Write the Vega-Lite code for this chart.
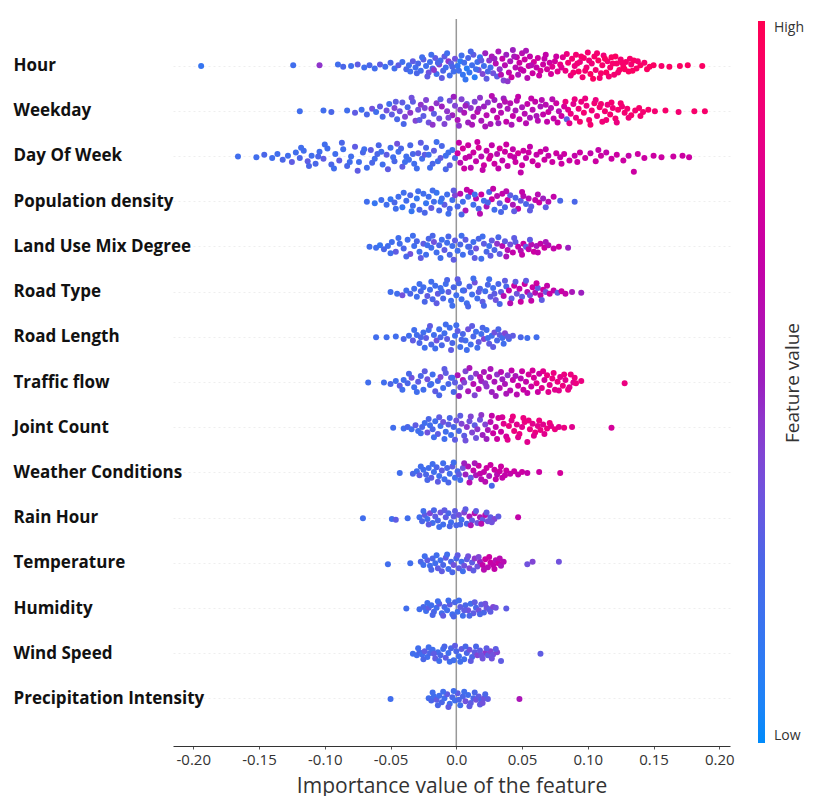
{
"$schema": "https://vega.github.io/schema/vega-lite/v6.json",
"width": 557, "height": 727,
"padding": {"left": 13, "top": 18, "right": 0, "bottom": 0},
"autosize": {"type": "pad"},
"background": "white",
"config": {"view": {"stroke": null}, "font": "Open Sans"},
"data": {"values": [
{"f":"Hour","v":-0.194,"c":0.15,"j":0},{"f":"Hour","v":-0.124,"c":0.2,"j":0.05},{"f":"Hour","v":-0.104,"c":0.45,"j":0.05},{"f":"Hour","v":-0.090,"c":0.2,"j":0.1},{"f":"Hour","v":-0.086,"c":0.25,"j":-0.05},{"f":"Hour","v":-0.080,"c":0.2,"j":0},{"f":"Hour","v":-0.075,"c":0.3,"j":0.1},{"f":"Hour","v":-0.070,"c":0.2,"j":-0.1},{"f":"Hour","v":-0.066,"c":0.25,"j":0.05},{"f":"Hour","v":-0.062,"c":0.2,"j":-0.15},{"f":"Hour","v":-0.058,"c":0.3,"j":0.1},{"f":"Hour","v":-0.054,"c":0.2,"j":-0.05},{"f":"Hour","v":-0.050,"c":0.25,"j":0.2},{"f":"Hour","v":-0.047,"c":0.2,"j":-0.15},{"f":"Hour","v":-0.044,"c":0.3,"j":0.05},{"f":"Hour","v":-0.041,"c":0.2,"j":0.25},{"f":"Hour","v":-0.038,"c":0.25,"j":-0.2},{"f":"Hour","v":-0.036,"c":0.2,"j":0.05},{"f":"Hour","v":-0.033,"c":0.3,"j":0.3},{"f":"Hour","v":-0.031,"c":0.2,"j":-0.1},{"f":"Hour","v":-0.029,"c":0.25,"j":0.15},{"f":"Hour","v":-0.027,"c":0.2,"j":-0.3},{"f":"Hour","v":-0.025,"c":0.3,"j":0.4},{"f":"Hour","v":-0.023,"c":0.2,"j":0},{"f":"Hour","v":-0.021,"c":0.35,"j":-0.4},{"f":"Hour","v":-0.020,"c":0.2,"j":0.25},{"f":"Hour","v":-0.018,"c":0.25,"j":-0.15},{"f":"Hour","v":-0.016,"c":0.3,"j":0.5},{"f":"Hour","v":-0.015,"c":0.2,"j":-0.5},{"f":"Hour","v":-0.013,"c":0.4,"j":0.1},{"f":"Hour","v":-0.012,"c":0.2,"j":0.35},{"f":"Hour","v":-0.010,"c":0.25,"j":-0.3},{"f":"Hour","v":-0.009,"c":0.3,"j":0.6},{"f":"Hour","v":-0.008,"c":0.2,"j":-0.1},{"f":"Hour","v":-0.006,"c":0.45,"j":0.3},{"f":"Hour","v":-0.005,"c":0.2,"j":-0.6},{"f":"Hour","v":-0.004,"c":0.3,"j":0.15},{"f":"Hour","v":-0.002,"c":0.2,"j":-0.35},{"f":"Hour","v":-0.001,"c":0.35,"j":0.45},
{"f":"Hour","v":0.001,"c":0.15,"j":0},{"f":"Hour","v":0.002,"c":0.2,"j":-0.3},{"f":"Hour","v":0.003,"c":0.1,"j":0.3},{"f":"Hour","v":0.005,"c":0.15,"j":-0.55},{"f":"Hour","v":0.006,"c":0.2,"j":0.2},{"f":"Hour","v":0.008,"c":0.1,"j":-0.15},{"f":"Hour","v":0.009,"c":0.25,"j":0.5},{"f":"Hour","v":0.010,"c":0.15,"j":-0.4},{"f":"Hour","v":0.012,"c":0.2,"j":0.05},{"f":"Hour","v":0.013,"c":0.3,"j":0.7},{"f":"Hour","v":0.014,"c":0.1,"j":-0.7},{"f":"Hour","v":0.016,"c":0.2,"j":0.25},{"f":"Hour","v":0.017,"c":0.35,"j":-0.25},{"f":"Hour","v":0.018,"c":0.15,"j":0.55},{"f":"Hour","v":0.020,"c":0.4,"j":-0.5},{"f":"Hour","v":0.021,"c":0.2,"j":0},{"f":"Hour","v":0.022,"c":0.5,"j":0.8},{"f":"Hour","v":0.023,"c":0.3,"j":-0.8},{"f":"Hour","v":0.025,"c":0.45,"j":0.35},{"f":"Hour","v":0.026,"c":0.2,"j":-0.1},{"f":"Hour","v":0.027,"c":0.55,"j":0.6},{"f":"Hour","v":0.028,"c":0.35,"j":-0.45},{"f":"Hour","v":0.030,"c":0.6,"j":0.15},{"f":"Hour","v":0.031,"c":0.3,"j":-0.65},{"f":"Hour","v":0.032,"c":0.55,"j":0.9},{"f":"Hour","v":0.033,"c":0.45,"j":-0.2},{"f":"Hour","v":0.035,"c":0.65,"j":0.45},{"f":"Hour","v":0.036,"c":0.4,"j":-0.9},{"f":"Hour","v":0.037,"c":0.6,"j":0.05},{"f":"Hour","v":0.038,"c":0.5,"j":0.7},{"f":"Hour","v":0.040,"c":0.65,"j":-0.4},{"f":"Hour","v":0.041,"c":0.55,"j":0.3},{"f":"Hour","v":0.042,"c":0.7,"j":-0.7},{"f":"Hour","v":0.043,"c":0.5,"j":1.0},{"f":"Hour","v":0.045,"c":0.6,"j":-0.1},{"f":"Hour","v":0.046,"c":0.65,"j":0.55},{"f":"Hour","v":0.047,"c":0.55,"j":-0.55},{"f":"Hour","v":0.048,"c":0.7,"j":0.2},{"f":"Hour","v":0.050,"c":0.6,"j":0.8},{"f":"Hour","v":0.051,"c":0.65,"j":-0.3},{"f":"Hour","v":0.052,"c":0.7,"j":0.4},{"f":"Hour","v":0.054,"c":0.6,"j":-0.75},{"f":"Hour","v":0.055,"c":0.7,"j":0},{"f":"Hour","v":0.056,"c":0.65,"j":0.6},{"f":"Hour","v":0.058,"c":0.7,"j":-0.45},{"f":"Hour","v":0.059,"c":0.75,"j":0.25},{"f":"Hour","v":0.061,"c":0.65,"j":-0.1},{"f":"Hour","v":0.062,"c":0.7,"j":0.5},{"f":"Hour","v":0.064,"c":0.75,"j":-0.3},{"f":"Hour","v":0.066,"c":0.7,"j":0.1},{"f":"Hour","v":0.067,"c":0.65,"j":0.45},{"f":"Hour","v":0.069,"c":0.75,"j":-0.2},{"f":"Hour","v":0.071,"c":0.7,"j":0.2},{"f":"Hour","v":0.073,"c":0.8,"j":-0.05},{"f":"Hour","v":0.075,"c":0.75,"j":0.3},{"f":"Hour","v":0.077,"c":0.8,"j":-0.35},{"f":"Hour","v":0.079,"c":0.85,"j":0.1},{"f":"Hour","v":0.081,"c":0.8,"j":0.55},{"f":"Hour","v":0.083,"c":0.85,"j":-0.3},{"f":"Hour","v":0.085,"c":0.9,"j":0.2},{"f":"Hour","v":0.087,"c":0.85,"j":-0.6},{"f":"Hour","v":0.088,"c":0.9,"j":0.45},{"f":"Hour","v":0.090,"c":0.85,"j":0},{"f":"Hour","v":0.091,"c":0.9,"j":0.7},{"f":"Hour","v":0.093,"c":0.92,"j":-0.35},{"f":"Hour","v":0.094,"c":0.85,"j":0.25},{"f":"Hour","v":0.096,"c":0.9,"j":-0.7},{"f":"Hour","v":0.097,"c":0.92,"j":0.5},{"f":"Hour","v":0.099,"c":0.88,"j":-0.1},{"f":"Hour","v":0.100,"c":0.9,"j":0.85},{"f":"Hour","v":0.102,"c":0.95,"j":-0.5},{"f":"Hour","v":0.103,"c":0.88,"j":0.15},{"f":"Hour","v":0.105,"c":0.92,"j":0.6},{"f":"Hour","v":0.106,"c":0.9,"j":-0.25},{"f":"Hour","v":0.108,"c":0.95,"j":0.35},{"f":"Hour","v":0.109,"c":0.9,"j":-0.75},{"f":"Hour","v":0.111,"c":0.92,"j":0.05},{"f":"Hour","v":0.112,"c":0.88,"j":0.65},{"f":"Hour","v":0.114,"c":0.95,"j":-0.4},{"f":"Hour","v":0.115,"c":0.9,"j":0.3},{"f":"Hour","v":0.117,"c":0.92,"j":-0.1},{"f":"Hour","v":0.118,"c":0.95,"j":0.55},{"f":"Hour","v":0.120,"c":0.9,"j":-0.55},{"f":"Hour","v":0.122,"c":0.92,"j":0.15},{"f":"Hour","v":0.124,"c":0.95,"j":-0.25},{"f":"Hour","v":0.125,"c":0.9,"j":0.4},{"f":"Hour","v":0.127,"c":0.95,"j":-0.05},{"f":"Hour","v":0.129,"c":0.92,"j":0.25},{"f":"Hour","v":0.131,"c":0.95,"j":-0.35},{"f":"Hour","v":0.133,"c":0.9,"j":0.1},{"f":"Hour","v":0.135,"c":0.95,"j":0.35},{"f":"Hour","v":0.137,"c":0.92,"j":-0.15},{"f":"Hour","v":0.140,"c":0.95,"j":0.05},{"f":"Hour","v":0.143,"c":0.92,"j":0.2},{"f":"Hour","v":0.147,"c":0.95,"j":-0.05},{"f":"Hour","v":0.150,"c":0.95,"j":0.05},{"f":"Hour","v":0.156,"c":0.92,"j":0},{"f":"Hour","v":0.162,"c":0.95,"j":-0.05},{"f":"Hour","v":0.170,"c":0.95,"j":0},{"f":"Hour","v":0.176,"c":0.95,"j":0.05},{"f":"Hour","v":0.187,"c":0.95,"j":0},
{"f":"Hour","v":-0.030,"c":0.25,"j":-0.45},{"f":"Hour","v":-0.026,"c":0.2,"j":0.55},{"f":"Hour","v":-0.022,"c":0.3,"j":-0.65},{"f":"Hour","v":-0.019,"c":0.2,"j":0.7},{"f":"Hour","v":-0.014,"c":0.25,"j":0.2},{"f":"Hour","v":-0.011,"c":0.3,"j":-0.75},{"f":"Hour","v":-0.007,"c":0.2,"j":0.8},{"f":"Hour","v":-0.003,"c":0.25,"j":-0.05},{"f":"Hour","v":-0.017,"c":0.45,"j":-0.25},{"f":"Hour","v":-0.035,"c":0.2,"j":-0.35},{"f":"Hour","v":0.004,"c":0.2,"j":0.65},{"f":"Hour","v":0.007,"c":0.15,"j":-0.85},{"f":"Hour","v":0.011,"c":0.25,"j":0.9},{"f":"Hour","v":0.015,"c":0.2,"j":-0.2},{"f":"Hour","v":0.019,"c":0.3,"j":0.35},{"f":"Hour","v":0.024,"c":0.25,"j":-0.35},{"f":"Hour","v":0.029,"c":0.5,"j":0.45},{"f":"Hour","v":0.034,"c":0.6,"j":-0.55},{"f":"Hour","v":0.039,"c":0.45,"j":-0.95},{"f":"Hour","v":0.044,"c":0.55,"j":0.6},{"f":"Hour","v":0.049,"c":0.65,"j":-0.2},{"f":"Hour","v":0.053,"c":0.55,"j":0.95},{"f":"Hour","v":0.057,"c":0.6,"j":0.05},{"f":"Hour","v":0.063,"c":0.7,"j":-0.6},{"f":"Hour","v":0.068,"c":0.65,"j":0.7},{"f":"Hour","v":0.072,"c":0.75,"j":-0.5},{"f":"Hour","v":0.076,"c":0.7,"j":0.6},{"f":"Hour","v":0.080,"c":0.8,"j":-0.1},{"f":"Hour","v":0.084,"c":0.85,"j":0.75},{"f":"Hour","v":0.089,"c":0.9,"j":-0.4},{"f":"Hour","v":0.092,"c":0.88,"j":0.15},{"f":"Hour","v":0.095,"c":0.92,"j":0.6},{"f":"Hour","v":0.098,"c":0.9,"j":-0.3},{"f":"Hour","v":0.101,"c":0.88,"j":0.35},{"f":"Hour","v":0.104,"c":0.95,"j":-0.8},{"f":"Hour","v":0.107,"c":0.9,"j":0.8},{"f":"Hour","v":0.110,"c":0.92,"j":-0.45},{"f":"Hour","v":0.113,"c":0.95,"j":0.45},{"f":"Hour","v":0.116,"c":0.9,"j":-0.65},{"f":"Hour","v":0.119,"c":0.92,"j":0.15},{"f":"Hour","v":0.121,"c":0.95,"j":0.6},{"f":"Hour","v":0.123,"c":0.9,"j":-0.4},{"f":"Hour","v":0.126,"c":0.92,"j":0.2},{"f":"Hour","v":0.128,"c":0.95,"j":-0.2},{"f":"Hour","v":0.132,"c":0.92,"j":0.45},{"f":"Hour","v":0.134,"c":0.95,"j":-0.3},{"f":"Hour","v":0.138,"c":0.9,"j":0.3},{"f":"Hour","v":0.145,"c":0.95,"j":-0.2},
{"f":"Weekday","v":-0.119,"c":0.2,"j":0},{"f":"Weekday","v":-0.101,"c":0.2,"j":0.05},{"f":"Weekday","v":-0.095,"c":0.25,"j":-0.05},{"f":"Weekday","v":-0.083,"c":0.2,"j":0.05},{"f":"Weekday","v":-0.077,"c":0.3,"j":-0.1},{"f":"Weekday","v":-0.072,"c":0.2,"j":0.1},{"f":"Weekday","v":-0.068,"c":0.25,"j":-0.2},{"f":"Weekday","v":-0.064,"c":0.35,"j":0.15},{"f":"Weekday","v":-0.061,"c":0.2,"j":-0.05},{"f":"Weekday","v":-0.058,"c":0.3,"j":0.3},{"f":"Weekday","v":-0.056,"c":0.25,"j":-0.35},{"f":"Weekday","v":-0.053,"c":0.35,"j":0.05},{"f":"Weekday","v":-0.051,"c":0.2,"j":0.45},{"f":"Weekday","v":-0.049,"c":0.3,"j":-0.2},{"f":"Weekday","v":-0.047,"c":0.4,"j":0.2},{"f":"Weekday","v":-0.045,"c":0.25,"j":-0.5},{"f":"Weekday","v":-0.043,"c":0.35,"j":0},{"f":"Weekday","v":-0.041,"c":0.3,"j":0.55},{"f":"Weekday","v":-0.039,"c":0.4,"j":-0.35},{"f":"Weekday","v":-0.037,"c":0.25,"j":0.25},{"f":"Weekday","v":-0.035,"c":0.45,"j":-0.1},{"f":"Weekday","v":-0.033,"c":0.3,"j":0.6},{"f":"Weekday","v":-0.031,"c":0.4,"j":-0.6},{"f":"Weekday","v":-0.029,"c":0.35,"j":0.1},{"f":"Weekday","v":-0.027,"c":0.45,"j":0.4},{"f":"Weekday","v":-0.025,"c":0.3,"j":-0.3},{"f":"Weekday","v":-0.023,"c":0.4,"j":0.7},{"f":"Weekday","v":-0.021,"c":0.35,"j":-0.7},{"f":"Weekday","v":-0.019,"c":0.5,"j":0.15},{"f":"Weekday","v":-0.017,"c":0.3,"j":-0.15},{"f":"Weekday","v":-0.015,"c":0.45,"j":0.5},{"f":"Weekday","v":-0.013,"c":0.35,"j":-0.45},{"f":"Weekday","v":-0.011,"c":0.5,"j":0.3},{"f":"Weekday","v":-0.009,"c":0.4,"j":-0.8},{"f":"Weekday","v":-0.007,"c":0.45,"j":0},{"f":"Weekday","v":-0.005,"c":0.35,"j":0.65},{"f":"Weekday","v":-0.003,"c":0.5,"j":-0.25},{"f":"Weekday","v":-0.001,"c":0.4,"j":0.35},
{"f":"Weekday","v":0.001,"c":0.55,"j":-0.55},{"f":"Weekday","v":0.003,"c":0.45,"j":0.1},{"f":"Weekday","v":0.004,"c":0.4,"j":0.75},{"f":"Weekday","v":0.006,"c":0.55,"j":-0.1},{"f":"Weekday","v":0.008,"c":0.35,"j":0.45},{"f":"Weekday","v":0.009,"c":0.5,"j":-0.7},{"f":"Weekday","v":0.011,"c":0.45,"j":0.2},{"f":"Weekday","v":0.013,"c":0.55,"j":-0.35},{"f":"Weekday","v":0.014,"c":0.4,"j":0.6},{"f":"Weekday","v":0.016,"c":0.6,"j":-0.05},{"f":"Weekday","v":0.018,"c":0.45,"j":0.85},{"f":"Weekday","v":0.019,"c":0.55,"j":-0.6},{"f":"Weekday","v":0.021,"c":0.5,"j":0.3},{"f":"Weekday","v":0.023,"c":0.6,"j":-0.25},{"f":"Weekday","v":0.024,"c":0.45,"j":0.55},{"f":"Weekday","v":0.026,"c":0.55,"j":-0.8},{"f":"Weekday","v":0.028,"c":0.6,"j":0.05},{"f":"Weekday","v":0.029,"c":0.5,"j":0.7},{"f":"Weekday","v":0.031,"c":0.65,"j":-0.4},{"f":"Weekday","v":0.033,"c":0.55,"j":0.35},{"f":"Weekday","v":0.034,"c":0.6,"j":-0.1},{"f":"Weekday","v":0.036,"c":0.5,"j":0.8},{"f":"Weekday","v":0.038,"c":0.65,"j":-0.65},{"f":"Weekday","v":0.039,"c":0.55,"j":0.15},{"f":"Weekday","v":0.041,"c":0.6,"j":0.5},{"f":"Weekday","v":0.043,"c":0.65,"j":-0.3},{"f":"Weekday","v":0.045,"c":0.55,"j":0.05},{"f":"Weekday","v":0.046,"c":0.6,"j":0.65},{"f":"Weekday","v":0.048,"c":0.65,"j":-0.5},{"f":"Weekday","v":0.050,"c":0.55,"j":0.25},{"f":"Weekday","v":0.052,"c":0.6,"j":-0.15},{"f":"Weekday","v":0.054,"c":0.65,"j":0.45},{"f":"Weekday","v":0.056,"c":0.55,"j":-0.4},{"f":"Weekday","v":0.058,"c":0.6,"j":0.1},{"f":"Weekday","v":0.060,"c":0.65,"j":0.6},{"f":"Weekday","v":0.062,"c":0.6,"j":-0.6},{"f":"Weekday","v":0.064,"c":0.55,"j":0.3},{"f":"Weekday","v":0.066,"c":0.65,"j":-0.2},{"f":"Weekday","v":0.068,"c":0.6,"j":0.4},{"f":"Weekday","v":0.070,"c":0.7,"j":-0.05},{"f":"Weekday","v":0.072,"c":0.6,"j":0.2},{"f":"Weekday","v":0.074,"c":0.65,"j":-0.45},{"f":"Weekday","v":0.076,"c":0.7,"j":0.5},{"f":"Weekday","v":0.078,"c":0.6,"j":0},{"f":"Weekday","v":0.080,"c":0.7,"j":-0.3},{"f":"Weekday","v":0.082,"c":0.75,"j":0.3},{"f":"Weekday","v":0.084,"c":0.3,"j":-0.5},{"f":"Weekday","v":0.085,"c":0.8,"j":0.1},{"f":"Weekday","v":0.087,"c":0.85,"j":-0.15},{"f":"Weekday","v":0.089,"c":0.8,"j":0.45},{"f":"Weekday","v":0.091,"c":0.85,"j":-0.4},{"f":"Weekday","v":0.093,"c":0.88,"j":0.15},{"f":"Weekday","v":0.095,"c":0.85,"j":0.6},{"f":"Weekday","v":0.097,"c":0.9,"j":-0.1},{"f":"Weekday","v":0.099,"c":0.85,"j":0.35},{"f":"Weekday","v":0.101,"c":0.9,"j":-0.55},{"f":"Weekday","v":0.103,"c":0.88,"j":0.05},{"f":"Weekday","v":0.105,"c":0.9,"j":0.5},{"f":"Weekday","v":0.107,"c":0.85,"j":-0.3},{"f":"Weekday","v":0.109,"c":0.9,"j":0.25},{"f":"Weekday","v":0.111,"c":0.88,"j":-0.65},{"f":"Weekday","v":0.113,"c":0.9,"j":0},{"f":"Weekday","v":0.115,"c":0.85,"j":0.4},{"f":"Weekday","v":0.117,"c":0.9,"j":-0.2},{"f":"Weekday","v":0.119,"c":0.88,"j":0.2},{"f":"Weekday","v":0.121,"c":0.9,"j":-0.45},{"f":"Weekday","v":0.123,"c":0.92,"j":0.1},{"f":"Weekday","v":0.126,"c":0.88,"j":0.3},{"f":"Weekday","v":0.128,"c":0.9,"j":-0.1},{"f":"Weekday","v":0.130,"c":0.9,"j":0.15},{"f":"Weekday","v":0.133,"c":0.92,"j":-0.25},{"f":"Weekday","v":0.136,"c":0.9,"j":0.05},{"f":"Weekday","v":0.139,"c":0.92,"j":0.2},{"f":"Weekday","v":0.142,"c":0.9,"j":-0.05},{"f":"Weekday","v":0.146,"c":0.92,"j":0.1},{"f":"Weekday","v":0.151,"c":0.9,"j":0},{"f":"Weekday","v":0.159,"c":0.92,"j":0.05},{"f":"Weekday","v":0.169,"c":0.9,"j":-0.05},{"f":"Weekday","v":0.181,"c":0.92,"j":0},{"f":"Weekday","v":0.189,"c":0.92,"j":0},
{"f":"Weekday","v":-0.046,"c":0.3,"j":0.6},{"f":"Weekday","v":-0.040,"c":0.25,"j":-0.8},{"f":"Weekday","v":-0.034,"c":0.35,"j":0.85},{"f":"Weekday","v":-0.028,"c":0.3,"j":-0.55},{"f":"Weekday","v":-0.024,"c":0.4,"j":0.2},{"f":"Weekday","v":-0.018,"c":0.45,"j":-0.85},{"f":"Weekday","v":-0.012,"c":0.3,"j":0.75},{"f":"Weekday","v":-0.006,"c":0.4,"j":-0.4},{"f":"Weekday","v":-0.002,"c":0.5,"j":0.9},{"f":"Weekday","v":0.002,"c":0.45,"j":-0.9},{"f":"Weekday","v":0.007,"c":0.5,"j":0.35},{"f":"Weekday","v":0.012,"c":0.55,"j":-0.85},{"f":"Weekday","v":0.017,"c":0.5,"j":0.15},{"f":"Weekday","v":0.022,"c":0.55,"j":-0.95},{"f":"Weekday","v":0.027,"c":0.6,"j":0.95},{"f":"Weekday","v":0.032,"c":0.5,"j":-0.75},{"f":"Weekday","v":0.037,"c":0.6,"j":0.6},{"f":"Weekday","v":0.042,"c":0.55,"j":-0.85},{"f":"Weekday","v":0.047,"c":0.65,"j":0.9},{"f":"Weekday","v":0.053,"c":0.6,"j":-0.75},{"f":"Weekday","v":0.057,"c":0.65,"j":0.8},{"f":"Weekday","v":0.061,"c":0.55,"j":-0.3},{"f":"Weekday","v":0.065,"c":0.6,"j":0.7},{"f":"Weekday","v":0.069,"c":0.65,"j":-0.65},{"f":"Weekday","v":0.073,"c":0.6,"j":0.75},{"f":"Weekday","v":0.077,"c":0.7,"j":-0.7},{"f":"Weekday","v":0.083,"c":0.85,"j":0.6},{"f":"Weekday","v":0.086,"c":0.8,"j":-0.75},{"f":"Weekday","v":0.090,"c":0.85,"j":0.75},{"f":"Weekday","v":0.094,"c":0.9,"j":-0.65},{"f":"Weekday","v":0.098,"c":0.85,"j":0.8},{"f":"Weekday","v":0.102,"c":0.9,"j":-0.85},{"f":"Weekday","v":0.106,"c":0.85,"j":0.7},{"f":"Weekday","v":0.110,"c":0.9,"j":0.45},{"f":"Weekday","v":0.114,"c":0.88,"j":-0.55},{"f":"Weekday","v":0.118,"c":0.9,"j":0.55},{"f":"Weekday","v":0.122,"c":0.85,"j":-0.7},{"f":"Weekday","v":0.125,"c":0.9,"j":0.5},{"f":"Weekday","v":0.131,"c":0.88,"j":-0.4},{"f":"Weekday","v":0.140,"c":0.9,"j":-0.3},
{"f":"Day Of Week","v":-0.166,"c":0.2,"j":0},{"f":"Day Of Week","v":-0.152,"c":0.2,"j":-0.05},{"f":"Day Of Week","v":-0.146,"c":0.25,"j":0.1},{"f":"Day Of Week","v":-0.140,"c":0.2,"j":-0.1},{"f":"Day Of Week","v":-0.136,"c":0.2,"j":0.15},{"f":"Day Of Week","v":-0.132,"c":0.25,"j":-0.2},{"f":"Day Of Week","v":-0.128,"c":0.2,"j":0.05},{"f":"Day Of Week","v":-0.125,"c":0.3,"j":-0.35},{"f":"Day Of Week","v":-0.122,"c":0.2,"j":0.25},{"f":"Day Of Week","v":-0.119,"c":0.25,"j":-0.1},{"f":"Day Of Week","v":-0.116,"c":0.2,"j":0.35},{"f":"Day Of Week","v":-0.113,"c":0.3,"j":-0.3},{"f":"Day Of Week","v":-0.110,"c":0.2,"j":0.05},{"f":"Day Of Week","v":-0.107,"c":0.25,"j":-0.45},{"f":"Day Of Week","v":-0.104,"c":0.2,"j":0.3},{"f":"Day Of Week","v":-0.101,"c":0.3,"j":-0.15},{"f":"Day Of Week","v":-0.098,"c":0.2,"j":0.5},{"f":"Day Of Week","v":-0.095,"c":0.25,"j":-0.5},{"f":"Day Of Week","v":-0.092,"c":0.2,"j":0.15},{"f":"Day Of Week","v":-0.089,"c":0.3,"j":-0.25},{"f":"Day Of Week","v":-0.086,"c":0.2,"j":0.45},{"f":"Day Of Week","v":-0.083,"c":0.25,"j":-0.6},{"f":"Day Of Week","v":-0.080,"c":0.2,"j":0},{"f":"Day Of Week","v":-0.077,"c":0.3,"j":0.6},{"f":"Day Of Week","v":-0.074,"c":0.2,"j":-0.35},{"f":"Day Of Week","v":-0.071,"c":0.25,"j":0.25},{"f":"Day Of Week","v":-0.068,"c":0.2,"j":-0.7},{"f":"Day Of Week","v":-0.065,"c":0.3,"j":0.4},{"f":"Day Of Week","v":-0.062,"c":0.2,"j":-0.15},{"f":"Day Of Week","v":-0.059,"c":0.25,"j":0.7},{"f":"Day Of Week","v":-0.056,"c":0.2,"j":-0.5},{"f":"Day Of Week","v":-0.053,"c":0.3,"j":0.1},{"f":"Day Of Week","v":-0.050,"c":0.2,"j":0.55},{"f":"Day Of Week","v":-0.047,"c":0.25,"j":-0.3},{"f":"Day Of Week","v":-0.044,"c":0.2,"j":0.3},{"f":"Day Of Week","v":-0.041,"c":0.3,"j":-0.65},{"f":"Day Of Week","v":-0.038,"c":0.2,"j":0},{"f":"Day Of Week","v":-0.035,"c":0.25,"j":0.7},{"f":"Day Of Week","v":-0.032,"c":0.2,"j":-0.45},{"f":"Day Of Week","v":-0.029,"c":0.3,"j":0.2},{"f":"Day Of Week","v":-0.026,"c":0.2,"j":-0.15},{"f":"Day Of Week","v":-0.023,"c":0.25,"j":0.55},{"f":"Day Of Week","v":-0.020,"c":0.2,"j":-0.7},{"f":"Day Of Week","v":-0.017,"c":0.3,"j":0.35},{"f":"Day Of Week","v":-0.014,"c":0.2,"j":-0.3},{"f":"Day Of Week","v":-0.011,"c":0.25,"j":0.65},{"f":"Day Of Week","v":-0.008,"c":0.2,"j":0.05},{"f":"Day Of Week","v":-0.005,"c":0.3,"j":-0.55},{"f":"Day Of Week","v":-0.003,"c":0.2,"j":0.4},{"f":"Day Of Week","v":-0.001,"c":0.25,"j":-0.1},{"f":"Day Of Week","v":-0.024,"c":0.3,"j":0.1},{"f":"Day Of Week","v":-0.036,"c":0.2,"j":-0.2},{"f":"Day Of Week","v":-0.060,"c":0.25,"j":0.15},{"f":"Day Of Week","v":-0.008,"c":0.25,"j":-0.8},{"f":"Day Of Week","v":-0.105,"c":0.25,"j":0},{"f":"Day Of Week","v":-0.045,"c":0.35,"j":0.8},
{"f":"Day Of Week","v":0.001,"c":0.7,"j":0.2},{"f":"Day Of Week","v":0.003,"c":0.6,"j":-0.4},{"f":"Day Of Week","v":0.005,"c":0.75,"j":0.5},{"f":"Day Of Week","v":0.007,"c":0.65,"j":-0.1},{"f":"Day Of Week","v":0.009,"c":0.7,"j":0.7},{"f":"Day Of Week","v":0.011,"c":0.6,"j":-0.7},{"f":"Day Of Week","v":0.013,"c":0.7,"j":0.25},{"f":"Day Of Week","v":0.015,"c":0.65,"j":-0.3},{"f":"Day Of Week","v":0.017,"c":0.75,"j":0.55},{"f":"Day Of Week","v":0.019,"c":0.6,"j":0},{"f":"Day Of Week","v":0.021,"c":0.7,"j":-0.55},{"f":"Day Of Week","v":0.023,"c":0.65,"j":0.35},{"f":"Day Of Week","v":0.025,"c":0.75,"j":-0.15},{"f":"Day Of Week","v":0.027,"c":0.65,"j":0.7},{"f":"Day Of Week","v":0.029,"c":0.7,"j":-0.45},{"f":"Day Of Week","v":0.031,"c":0.6,"j":0.15},{"f":"Day Of Week","v":0.033,"c":0.75,"j":0.5},{"f":"Day Of Week","v":0.035,"c":0.65,"j":-0.25},{"f":"Day Of Week","v":0.037,"c":0.7,"j":0.3},{"f":"Day Of Week","v":0.039,"c":0.65,"j":-0.6},{"f":"Day Of Week","v":0.041,"c":0.7,"j":0.05},{"f":"Day Of Week","v":0.043,"c":0.65,"j":0.45},{"f":"Day Of Week","v":0.045,"c":0.7,"j":-0.35},{"f":"Day Of Week","v":0.047,"c":0.75,"j":0.2},{"f":"Day Of Week","v":0.049,"c":0.65,"j":-1.0},{"f":"Day Of Week","v":0.051,"c":0.7,"j":0.35},{"f":"Day Of Week","v":0.053,"c":0.65,"j":-0.1},{"f":"Day Of Week","v":0.055,"c":0.7,"j":0.25},{"f":"Day Of Week","v":0.058,"c":0.7,"j":-0.3},{"f":"Day Of Week","v":0.061,"c":0.65,"j":0.1},{"f":"Day Of Week","v":0.064,"c":0.7,"j":0.3},{"f":"Day Of Week","v":0.067,"c":0.7,"j":-0.2},{"f":"Day Of Week","v":0.070,"c":0.65,"j":0.05},{"f":"Day Of Week","v":0.073,"c":0.7,"j":-0.35},{"f":"Day Of Week","v":0.076,"c":0.7,"j":0.2},{"f":"Day Of Week","v":0.079,"c":0.65,"j":-0.05},{"f":"Day Of Week","v":0.082,"c":0.7,"j":0.15},{"f":"Day Of Week","v":0.086,"c":0.7,"j":-0.25},{"f":"Day Of Week","v":0.090,"c":0.65,"j":0.05},{"f":"Day Of Week","v":0.094,"c":0.7,"j":0.25},{"f":"Day Of Week","v":0.098,"c":0.7,"j":-0.1},{"f":"Day Of Week","v":0.102,"c":0.65,"j":0.2},{"f":"Day Of Week","v":0.106,"c":0.7,"j":-0.3},{"f":"Day Of Week","v":0.110,"c":0.7,"j":0.05},{"f":"Day Of Week","v":0.114,"c":0.65,"j":0.25},{"f":"Day Of Week","v":0.118,"c":0.7,"j":-0.15},{"f":"Day Of Week","v":0.122,"c":0.7,"j":0.1},{"f":"Day Of Week","v":0.127,"c":0.7,"j":-0.25},{"f":"Day Of Week","v":0.131,"c":0.65,"j":0.05},{"f":"Day Of Week","v":0.135,"c":0.7,"j":-0.95},{"f":"Day Of Week","v":0.138,"c":0.7,"j":0.15},{"f":"Day Of Week","v":0.143,"c":0.7,"j":-0.1},{"f":"Day Of Week","v":0.150,"c":0.7,"j":0.05},{"f":"Day Of Week","v":0.156,"c":0.7,"j":-0.05},{"f":"Day Of Week","v":0.165,"c":0.7,"j":0},{"f":"Day Of Week","v":0.172,"c":0.7,"j":0.05},{"f":"Day Of Week","v":0.177,"c":0.7,"j":-0.05},
{"f":"Day Of Week","v":-0.118,"c":0.2,"j":0.55},{"f":"Day Of Week","v":-0.112,"c":0.25,"j":-0.6},{"f":"Day Of Week","v":-0.100,"c":0.2,"j":0.75},{"f":"Day Of Week","v":-0.093,"c":0.2,"j":-0.75},{"f":"Day Of Week","v":-0.087,"c":0.25,"j":0.85},{"f":"Day Of Week","v":-0.081,"c":0.2,"j":-0.35},{"f":"Day Of Week","v":-0.075,"c":0.3,"j":-0.9},{"f":"Day Of Week","v":-0.070,"c":0.2,"j":0.45},{"f":"Day Of Week","v":-0.064,"c":0.25,"j":-0.4},{"f":"Day Of Week","v":-0.057,"c":0.2,"j":0.3},{"f":"Day Of Week","v":-0.052,"c":0.3,"j":-0.8},{"f":"Day Of Week","v":-0.048,"c":0.2,"j":-0.05},{"f":"Day Of Week","v":-0.042,"c":0.25,"j":0.5},{"f":"Day Of Week","v":-0.039,"c":0.2,"j":-0.35},{"f":"Day Of Week","v":-0.033,"c":0.25,"j":0.15},{"f":"Day Of Week","v":-0.030,"c":0.2,"j":-0.75},{"f":"Day Of Week","v":-0.027,"c":0.3,"j":0.85},{"f":"Day Of Week","v":-0.021,"c":0.2,"j":0.1},{"f":"Day Of Week","v":-0.018,"c":0.25,"j":-0.45},{"f":"Day Of Week","v":-0.015,"c":0.2,"j":0.9},{"f":"Day Of Week","v":-0.012,"c":0.3,"j":-0.1},{"f":"Day Of Week","v":-0.006,"c":0.2,"j":0.25},{"f":"Day Of Week","v":0.002,"c":0.65,"j":0.85},{"f":"Day Of Week","v":0.006,"c":0.7,"j":-0.75},{"f":"Day Of Week","v":0.010,"c":0.65,"j":0},{"f":"Day Of Week","v":0.016,"c":0.7,"j":0.9},{"f":"Day Of Week","v":0.020,"c":0.65,"j":-0.85},{"f":"Day Of Week","v":0.026,"c":0.7,"j":0.05},{"f":"Day Of Week","v":0.032,"c":0.65,"j":-0.75},{"f":"Day Of Week","v":0.038,"c":0.7,"j":0.75},{"f":"Day Of Week","v":0.044,"c":0.65,"j":-0.05},{"f":"Day Of Week","v":0.050,"c":0.7,"j":-0.55},{"f":"Day Of Week","v":0.056,"c":0.65,"j":0.6},{"f":"Day Of Week","v":0.062,"c":0.7,"j":-0.55},{"f":"Day Of Week","v":0.068,"c":0.65,"j":0.45},{"f":"Day Of Week","v":0.080,"c":0.7,"j":-0.45},{"f":"Day Of Week","v":0.092,"c":0.7,"j":-0.35},{"f":"Day Of Week","v":0.108,"c":0.65,"j":0.4},
{"f":"Population density","v":-0.068,"c":0.2,"j":0},{"f":"Population density","v":-0.062,"c":0.15,"j":-0.1},{"f":"Population density","v":-0.057,"c":0.2,"j":0.1},{"f":"Population density","v":-0.053,"c":0.2,"j":-0.2},{"f":"Population density","v":-0.050,"c":0.15,"j":0.15},{"f":"Population density","v":-0.047,"c":0.25,"j":-0.05},{"f":"Population density","v":-0.044,"c":0.2,"j":0.3},{"f":"Population density","v":-0.041,"c":0.15,"j":-0.35},{"f":"Population density","v":-0.038,"c":0.2,"j":0.05},{"f":"Population density","v":-0.035,"c":0.25,"j":0.4},{"f":"Population density","v":-0.033,"c":0.2,"j":-0.25},{"f":"Population density","v":-0.030,"c":0.15,"j":0.2},{"f":"Population density","v":-0.028,"c":0.25,"j":-0.5},{"f":"Population density","v":-0.025,"c":0.2,"j":0.5},{"f":"Population density","v":-0.023,"c":0.15,"j":-0.1},{"f":"Population density","v":-0.021,"c":0.2,"j":0.3},{"f":"Population density","v":-0.019,"c":0.3,"j":-0.4},{"f":"Population density","v":-0.017,"c":0.2,"j":0},{"f":"Population density","v":-0.015,"c":0.15,"j":0.55},{"f":"Population density","v":-0.013,"c":0.25,"j":-0.55},{"f":"Population density","v":-0.011,"c":0.2,"j":0.2},{"f":"Population density","v":-0.009,"c":0.3,"j":-0.2},{"f":"Population density","v":-0.007,"c":0.2,"j":0.45},{"f":"Population density","v":-0.005,"c":0.25,"j":-0.45},{"f":"Population density","v":-0.003,"c":0.2,"j":0.1},{"f":"Population density","v":-0.001,"c":0.4,"j":0.4},
{"f":"Population density","v":0.001,"c":0.25,"j":-0.3},{"f":"Population density","v":0.003,"c":0.6,"j":0.5},{"f":"Population density","v":0.005,"c":0.2,"j":0},{"f":"Population density","v":0.007,"c":0.55,"j":-0.55},{"f":"Population density","v":0.009,"c":0.25,"j":0.3},{"f":"Population density","v":0.011,"c":0.65,"j":0.6},{"f":"Population density","v":0.013,"c":0.2,"j":-0.2},{"f":"Population density","v":0.015,"c":0.6,"j":0.2},{"f":"Population density","v":0.017,"c":0.25,"j":-0.45},{"f":"Population density","v":0.019,"c":0.7,"j":0.45},{"f":"Population density","v":0.021,"c":0.2,"j":0.05},{"f":"Population density","v":0.023,"c":0.55,"j":-0.3},{"f":"Population density","v":0.025,"c":0.25,"j":0.6},{"f":"Population density","v":0.027,"c":0.7,"j":0.15},{"f":"Population density","v":0.029,"c":0.2,"j":-0.5},{"f":"Population density","v":0.031,"c":0.6,"j":0.35},{"f":"Population density","v":0.033,"c":0.3,"j":-0.1},{"f":"Population density","v":0.035,"c":0.65,"j":0.5},{"f":"Population density","v":0.037,"c":0.25,"j":-0.35},{"f":"Population density","v":0.039,"c":0.7,"j":0.1},{"f":"Population density","v":0.041,"c":0.3,"j":0.4},{"f":"Population density","v":0.043,"c":0.55,"j":-0.2},{"f":"Population density","v":0.045,"c":0.25,"j":0.25},{"f":"Population density","v":0.047,"c":0.65,"j":-0.45},{"f":"Population density","v":0.049,"c":0.3,"j":0.05},{"f":"Population density","v":0.051,"c":0.6,"j":0.35},{"f":"Population density","v":0.053,"c":0.25,"j":-0.15},{"f":"Population density","v":0.055,"c":0.6,"j":0.2},{"f":"Population density","v":0.057,"c":0.3,"j":-0.3},{"f":"Population density","v":0.060,"c":0.65,"j":0.1},{"f":"Population density","v":0.063,"c":0.7,"j":-0.05},{"f":"Population density","v":0.066,"c":0.5,"j":0.2},{"f":"Population density","v":0.070,"c":0.6,"j":0},{"f":"Population density","v":0.079,"c":0.25,"j":0.05},{"f":"Population density","v":0.090,"c":0.25,"j":0},
{"f":"Population density","v":-0.046,"c":0.2,"j":-0.45},{"f":"Population density","v":-0.040,"c":0.2,"j":0.55},{"f":"Population density","v":-0.034,"c":0.15,"j":-0.6},{"f":"Population density","v":-0.029,"c":0.2,"j":0.65},{"f":"Population density","v":-0.024,"c":0.25,"j":-0.7},{"f":"Population density","v":-0.018,"c":0.2,"j":0.7},{"f":"Population density","v":-0.012,"c":0.15,"j":0},{"f":"Population density","v":-0.006,"c":0.2,"j":-0.75},{"f":"Population density","v":-0.002,"c":0.3,"j":0.7},{"f":"Population density","v":0.004,"c":0.25,"j":-0.8},{"f":"Population density","v":0.008,"c":0.65,"j":0.75},{"f":"Population density","v":0.014,"c":0.2,"j":0.45},{"f":"Population density","v":0.018,"c":0.6,"j":-0.75},{"f":"Population density","v":0.024,"c":0.25,"j":-0.05},{"f":"Population density","v":0.028,"c":0.65,"j":0.8},{"f":"Population density","v":0.034,"c":0.25,"j":-0.65},{"f":"Population density","v":0.038,"c":0.6,"j":0.65},{"f":"Population density","v":0.044,"c":0.3,"j":-0.6},{"f":"Population density","v":0.050,"c":0.65,"j":0.6},{"f":"Population density","v":0.056,"c":0.3,"j":-0.55},{"f":"Population density","v":0.062,"c":0.6,"j":0.45},{"f":"Population density","v":0.068,"c":0.3,"j":-0.35},{"f":"Population density","v":0.074,"c":0.65,"j":0.3},
{"f":"Land Use Mix Degree","v":-0.066,"c":0.2,"j":0},{"f":"Land Use Mix Degree","v":-0.061,"c":0.2,"j":-0.05},{"f":"Land Use Mix Degree","v":-0.058,"c":0.15,"j":0.1},{"f":"Land Use Mix Degree","v":-0.055,"c":0.25,"j":-0.15},{"f":"Land Use Mix Degree","v":-0.052,"c":0.2,"j":0.05},{"f":"Land Use Mix Degree","v":-0.049,"c":0.2,"j":0.3},{"f":"Land Use Mix Degree","v":-0.046,"c":0.3,"j":-0.3},{"f":"Land Use Mix Degree","v":-0.043,"c":0.2,"j":0.2},{"f":"Land Use Mix Degree","v":-0.040,"c":0.25,"j":-0.1},{"f":"Land Use Mix Degree","v":-0.037,"c":0.2,"j":0.45},{"f":"Land Use Mix Degree","v":-0.035,"c":0.35,"j":-0.45},{"f":"Land Use Mix Degree","v":-0.032,"c":0.2,"j":0.05},{"f":"Land Use Mix Degree","v":-0.030,"c":0.25,"j":0.35},{"f":"Land Use Mix Degree","v":-0.028,"c":0.2,"j":-0.3},{"f":"Land Use Mix Degree","v":-0.025,"c":0.3,"j":0.2},{"f":"Land Use Mix Degree","v":-0.023,"c":0.2,"j":-0.5},{"f":"Land Use Mix Degree","v":-0.021,"c":0.25,"j":0.5},{"f":"Land Use Mix Degree","v":-0.019,"c":0.2,"j":-0.05},{"f":"Land Use Mix Degree","v":-0.017,"c":0.35,"j":0.3},{"f":"Land Use Mix Degree","v":-0.015,"c":0.2,"j":-0.35},{"f":"Land Use Mix Degree","v":-0.013,"c":0.25,"j":0.1},{"f":"Land Use Mix Degree","v":-0.011,"c":0.2,"j":0.45},{"f":"Land Use Mix Degree","v":-0.009,"c":0.3,"j":-0.2},{"f":"Land Use Mix Degree","v":-0.007,"c":0.2,"j":0.25},{"f":"Land Use Mix Degree","v":-0.005,"c":0.25,"j":-0.5},{"f":"Land Use Mix Degree","v":-0.003,"c":0.2,"j":0.05},{"f":"Land Use Mix Degree","v":-0.001,"c":0.3,"j":0.4},
{"f":"Land Use Mix Degree","v":0.001,"c":0.2,"j":-0.25},{"f":"Land Use Mix Degree","v":0.003,"c":0.25,"j":0.15},{"f":"Land Use Mix Degree","v":0.005,"c":0.2,"j":-0.5},{"f":"Land Use Mix Degree","v":0.007,"c":0.3,"j":0.45},{"f":"Land Use Mix Degree","v":0.009,"c":0.2,"j":0},{"f":"Land Use Mix Degree","v":0.011,"c":0.25,"j":-0.35},{"f":"Land Use Mix Degree","v":0.013,"c":0.2,"j":0.3},{"f":"Land Use Mix Degree","v":0.015,"c":0.35,"j":-0.1},{"f":"Land Use Mix Degree","v":0.017,"c":0.25,"j":0.5},{"f":"Land Use Mix Degree","v":0.019,"c":0.2,"j":-0.75},{"f":"Land Use Mix Degree","v":0.021,"c":0.3,"j":0.2},{"f":"Land Use Mix Degree","v":0.023,"c":0.25,"j":-0.3},{"f":"Land Use Mix Degree","v":0.025,"c":0.2,"j":0.05},{"f":"Land Use Mix Degree","v":0.027,"c":0.3,"j":0.4},{"f":"Land Use Mix Degree","v":0.029,"c":0.25,"j":-0.2},{"f":"Land Use Mix Degree","v":0.031,"c":0.45,"j":0.2},{"f":"Land Use Mix Degree","v":0.033,"c":0.3,"j":-0.45},{"f":"Land Use Mix Degree","v":0.035,"c":0.6,"j":0.05},{"f":"Land Use Mix Degree","v":0.037,"c":0.3,"j":0.35},{"f":"Land Use Mix Degree","v":0.039,"c":0.6,"j":-0.2},{"f":"Land Use Mix Degree","v":0.041,"c":0.35,"j":0.15},{"f":"Land Use Mix Degree","v":0.043,"c":0.65,"j":-0.35},{"f":"Land Use Mix Degree","v":0.045,"c":0.3,"j":0.3},{"f":"Land Use Mix Degree","v":0.047,"c":0.65,"j":0},{"f":"Land Use Mix Degree","v":0.049,"c":0.6,"j":-0.25},{"f":"Land Use Mix Degree","v":0.051,"c":0.7,"j":0.2},{"f":"Land Use Mix Degree","v":0.053,"c":0.3,"j":0},{"f":"Land Use Mix Degree","v":0.055,"c":0.65,"j":-0.15},{"f":"Land Use Mix Degree","v":0.057,"c":0.6,"j":0.15},{"f":"Land Use Mix Degree","v":0.059,"c":0.7,"j":-0.3},{"f":"Land Use Mix Degree","v":0.061,"c":0.55,"j":0.05},{"f":"Land Use Mix Degree","v":0.064,"c":0.65,"j":0.2},{"f":"Land Use Mix Degree","v":0.067,"c":0.7,"j":-0.05},{"f":"Land Use Mix Degree","v":0.070,"c":0.6,"j":0.1},{"f":"Land Use Mix Degree","v":0.074,"c":0.65,"j":-0.1},{"f":"Land Use Mix Degree","v":0.078,"c":0.7,"j":0},{"f":"Land Use Mix Degree","v":0.085,"c":0.5,"j":-0.05},
{"f":"Land Use Mix Degree","v":-0.050,"c":0.2,"j":-0.4},{"f":"Land Use Mix Degree","v":-0.044,"c":0.2,"j":0.55},{"f":"Land Use Mix Degree","v":-0.038,"c":0.25,"j":-0.6},{"f":"Land Use Mix Degree","v":-0.033,"c":0.2,"j":0.7},{"f":"Land Use Mix Degree","v":-0.027,"c":0.3,"j":-0.7},{"f":"Land Use Mix Degree","v":-0.022,"c":0.2,"j":0.1},{"f":"Land Use Mix Degree","v":-0.018,"c":0.25,"j":0.7},{"f":"Land Use Mix Degree","v":-0.012,"c":0.2,"j":-0.7},{"f":"Land Use Mix Degree","v":-0.006,"c":0.25,"j":0.65},{"f":"Land Use Mix Degree","v":-0.002,"c":0.3,"j":-0.8},{"f":"Land Use Mix Degree","v":0.004,"c":0.2,"j":0.7},{"f":"Land Use Mix Degree","v":0.010,"c":0.25,"j":0},{"f":"Land Use Mix Degree","v":0.014,"c":0.3,"j":-0.7},{"f":"Land Use Mix Degree","v":0.020,"c":0.2,"j":0.65},{"f":"Land Use Mix Degree","v":0.026,"c":0.3,"j":-0.55},{"f":"Land Use Mix Degree","v":0.032,"c":0.25,"j":0.6},{"f":"Land Use Mix Degree","v":0.038,"c":0.55,"j":-0.6},{"f":"Land Use Mix Degree","v":0.044,"c":0.3,"j":0.55},{"f":"Land Use Mix Degree","v":0.050,"c":0.65,"j":-0.5},{"f":"Land Use Mix Degree","v":0.056,"c":0.3,"j":0.45},{"f":"Land Use Mix Degree","v":0.062,"c":0.65,"j":-0.35},{"f":"Land Use Mix Degree","v":0.068,"c":0.55,"j":0.3},
{"f":"Road Type","v":-0.050,"c":0.2,"j":0},{"f":"Road Type","v":-0.045,"c":0.2,"j":-0.1},{"f":"Road Type","v":-0.041,"c":0.35,"j":-0.2},{"f":"Road Type","v":-0.038,"c":0.2,"j":0.1},{"f":"Road Type","v":-0.035,"c":0.25,"j":-0.1},{"f":"Road Type","v":-0.032,"c":0.2,"j":0.2},{"f":"Road Type","v":-0.030,"c":0.2,"j":-0.3},{"f":"Road Type","v":-0.027,"c":0.25,"j":0.05},{"f":"Road Type","v":-0.025,"c":0.2,"j":0.3},{"f":"Road Type","v":-0.022,"c":0.3,"j":-0.25},{"f":"Road Type","v":-0.020,"c":0.2,"j":0.15},{"f":"Road Type","v":-0.018,"c":0.25,"j":-0.45},{"f":"Road Type","v":-0.016,"c":0.2,"j":0.4},{"f":"Road Type","v":-0.014,"c":0.3,"j":-0.1},{"f":"Road Type","v":-0.012,"c":0.2,"j":0.25},{"f":"Road Type","v":-0.010,"c":0.25,"j":-0.4},{"f":"Road Type","v":-0.008,"c":0.2,"j":0.5},{"f":"Road Type","v":-0.006,"c":0.3,"j":0},{"f":"Road Type","v":-0.004,"c":0.2,"j":-0.55},{"f":"Road Type","v":-0.002,"c":0.25,"j":0.3},
{"f":"Road Type","v":0.000,"c":0.2,"j":-0.2},{"f":"Road Type","v":0.002,"c":0.25,"j":0.55},{"f":"Road Type","v":0.004,"c":0.2,"j":-0.45},{"f":"Road Type","v":0.006,"c":0.3,"j":0.1},{"f":"Road Type","v":0.008,"c":0.2,"j":-0.7},{"f":"Road Type","v":0.010,"c":0.25,"j":0.35},{"f":"Road Type","v":0.012,"c":0.2,"j":-0.15},{"f":"Road Type","v":0.014,"c":0.35,"j":0.6},{"f":"Road Type","v":0.016,"c":0.2,"j":-0.4},{"f":"Road Type","v":0.018,"c":0.25,"j":0.2},{"f":"Road Type","v":0.020,"c":0.3,"j":-0.6},{"f":"Road Type","v":0.022,"c":0.2,"j":0.05},{"f":"Road Type","v":0.024,"c":0.25,"j":0.45},{"f":"Road Type","v":0.026,"c":0.3,"j":-0.3},{"f":"Road Type","v":0.028,"c":0.2,"j":0.25},{"f":"Road Type","v":0.030,"c":0.35,"j":-0.5},{"f":"Road Type","v":0.032,"c":0.25,"j":0.5},{"f":"Road Type","v":0.034,"c":0.3,"j":0},{"f":"Road Type","v":0.036,"c":0.6,"j":-0.25},{"f":"Road Type","v":0.038,"c":0.25,"j":0.35},{"f":"Road Type","v":0.040,"c":0.65,"j":0.1},{"f":"Road Type","v":0.042,"c":0.3,"j":-0.4},{"f":"Road Type","v":0.044,"c":0.7,"j":0.4},{"f":"Road Type","v":0.046,"c":0.35,"j":-0.1},{"f":"Road Type","v":0.048,"c":0.65,"j":0.2},{"f":"Road Type","v":0.050,"c":0.3,"j":-0.3},{"f":"Road Type","v":0.052,"c":0.7,"j":0.5},{"f":"Road Type","v":0.054,"c":0.6,"j":0},{"f":"Road Type","v":0.056,"c":0.35,"j":-0.2},{"f":"Road Type","v":0.058,"c":0.7,"j":0.3},{"f":"Road Type","v":0.060,"c":0.6,"j":-0.05},{"f":"Road Type","v":0.062,"c":0.3,"j":0.25},{"f":"Road Type","v":0.064,"c":0.65,"j":-0.2},{"f":"Road Type","v":0.066,"c":0.7,"j":0.15},{"f":"Road Type","v":0.068,"c":0.35,"j":0},{"f":"Road Type","v":0.071,"c":0.7,"j":-0.1},{"f":"Road Type","v":0.074,"c":0.65,"j":0.1},{"f":"Road Type","v":0.077,"c":0.3,"j":-0.05},{"f":"Road Type","v":0.080,"c":0.7,"j":0.05},{"f":"Road Type","v":0.083,"c":0.65,"j":-0.1},{"f":"Road Type","v":0.088,"c":0.55,"j":0},{"f":"Road Type","v":0.095,"c":0.5,"j":-0.05},
{"f":"Road Type","v":-0.028,"c":0.2,"j":0.5},{"f":"Road Type","v":-0.024,"c":0.25,"j":-0.6},{"f":"Road Type","v":-0.019,"c":0.2,"j":0.65},{"f":"Road Type","v":-0.015,"c":0.3,"j":-0.7},{"f":"Road Type","v":-0.011,"c":0.2,"j":0.05},{"f":"Road Type","v":-0.007,"c":0.25,"j":0.75},{"f":"Road Type","v":-0.003,"c":0.2,"j":-0.85},{"f":"Road Type","v":0.001,"c":0.3,"j":0.8},{"f":"Road Type","v":0.005,"c":0.2,"j":0.1},{"f":"Road Type","v":0.009,"c":0.25,"j":-0.9},{"f":"Road Type","v":0.013,"c":0.2,"j":0.85},{"f":"Road Type","v":0.017,"c":0.3,"j":0},{"f":"Road Type","v":0.021,"c":0.25,"j":-0.85},{"f":"Road Type","v":0.025,"c":0.2,"j":0.8},{"f":"Road Type","v":0.029,"c":0.3,"j":-0.1},{"f":"Road Type","v":0.033,"c":0.25,"j":-0.75},{"f":"Road Type","v":0.037,"c":0.3,"j":0.7},{"f":"Road Type","v":0.041,"c":0.6,"j":-0.7},{"f":"Road Type","v":0.045,"c":0.3,"j":0.65},{"f":"Road Type","v":0.049,"c":0.7,"j":-0.6},{"f":"Road Type","v":0.053,"c":0.3,"j":0.7},{"f":"Road Type","v":0.057,"c":0.65,"j":-0.55},{"f":"Road Type","v":0.061,"c":0.7,"j":0.55},{"f":"Road Type","v":0.065,"c":0.3,"j":-0.5},{"f":"Road Type","v":0.069,"c":0.65,"j":0.4},
{"f":"Road Length","v":-0.061,"c":0.2,"j":0},{"f":"Road Length","v":-0.053,"c":0.2,"j":0},{"f":"Road Length","v":-0.046,"c":0.2,"j":0.05},{"f":"Road Length","v":-0.040,"c":0.25,"j":-0.1},{"f":"Road Length","v":-0.036,"c":0.2,"j":0.1},{"f":"Road Length","v":-0.033,"c":0.3,"j":-0.2},{"f":"Road Length","v":-0.030,"c":0.2,"j":0.15},{"f":"Road Length","v":-0.028,"c":0.25,"j":-0.35},{"f":"Road Length","v":-0.025,"c":0.2,"j":0.3},{"f":"Road Length","v":-0.023,"c":0.3,"j":-0.05},{"f":"Road Length","v":-0.021,"c":0.2,"j":0.45},{"f":"Road Length","v":-0.019,"c":0.25,"j":-0.45},{"f":"Road Length","v":-0.017,"c":0.2,"j":0.15},{"f":"Road Length","v":-0.015,"c":0.35,"j":-0.2},{"f":"Road Length","v":-0.013,"c":0.2,"j":0.5},{"f":"Road Length","v":-0.011,"c":0.25,"j":-0.5},{"f":"Road Length","v":-0.009,"c":0.2,"j":0.25},{"f":"Road Length","v":-0.007,"c":0.3,"j":-0.1},{"f":"Road Length","v":-0.005,"c":0.2,"j":0.6},{"f":"Road Length","v":-0.003,"c":0.25,"j":-0.35},{"f":"Road Length","v":-0.001,"c":0.2,"j":0.1},
{"f":"Road Length","v":0.001,"c":0.3,"j":0.4},{"f":"Road Length","v":0.003,"c":0.2,"j":-0.6},{"f":"Road Length","v":0.005,"c":0.25,"j":0.2},{"f":"Road Length","v":0.007,"c":0.2,"j":-0.2},{"f":"Road Length","v":0.009,"c":0.35,"j":0.5},{"f":"Road Length","v":0.011,"c":0.2,"j":-0.45},{"f":"Road Length","v":0.013,"c":0.25,"j":0.05},{"f":"Road Length","v":0.015,"c":0.2,"j":0.35},{"f":"Road Length","v":0.017,"c":0.3,"j":-0.3},{"f":"Road Length","v":0.019,"c":0.2,"j":0.2},{"f":"Road Length","v":0.021,"c":0.4,"j":-0.1},{"f":"Road Length","v":0.023,"c":0.2,"j":0.45},{"f":"Road Length","v":0.025,"c":0.3,"j":-0.4},{"f":"Road Length","v":0.027,"c":0.2,"j":0.1},{"f":"Road Length","v":0.029,"c":0.35,"j":0.3},{"f":"Road Length","v":0.031,"c":0.25,"j":-0.2},{"f":"Road Length","v":0.033,"c":0.3,"j":0.15},{"f":"Road Length","v":0.035,"c":0.2,"j":-0.05},{"f":"Road Length","v":0.037,"c":0.4,"j":0.25},{"f":"Road Length","v":0.040,"c":0.25,"j":-0.1},{"f":"Road Length","v":0.043,"c":0.3,"j":0.1},{"f":"Road Length","v":0.049,"c":0.25,"j":0},{"f":"Road Length","v":0.054,"c":0.2,"j":-0.05},{"f":"Road Length","v":0.061,"c":0.2,"j":0},
{"f":"Road Length","v":-0.032,"c":0.2,"j":0.45},{"f":"Road Length","v":-0.027,"c":0.25,"j":0},{"f":"Road Length","v":-0.024,"c":0.2,"j":-0.65},{"f":"Road Length","v":-0.020,"c":0.3,"j":0.7},{"f":"Road Length","v":-0.016,"c":0.2,"j":-0.7},{"f":"Road Length","v":-0.012,"c":0.25,"j":0},{"f":"Road Length","v":-0.008,"c":0.2,"j":0.8},{"f":"Road Length","v":-0.004,"c":0.3,"j":-0.8},{"f":"Road Length","v":0.000,"c":0.2,"j":0.75},{"f":"Road Length","v":0.004,"c":0.25,"j":-0.15},{"f":"Road Length","v":0.008,"c":0.2,"j":-0.8},{"f":"Road Length","v":0.012,"c":0.3,"j":0.7},{"f":"Road Length","v":0.016,"c":0.2,"j":-0.65},{"f":"Road Length","v":0.020,"c":0.25,"j":0.6},{"f":"Road Length","v":0.024,"c":0.2,"j":-0.05},{"f":"Road Length","v":0.028,"c":0.3,"j":-0.6},{"f":"Road Length","v":0.032,"c":0.25,"j":0.5},{"f":"Road Length","v":0.036,"c":0.2,"j":-0.4},{"f":"Road Length","v":0.039,"c":0.3,"j":0.05},
{"f":"Traffic flow","v":-0.067,"c":0.2,"j":0},{"f":"Traffic flow","v":-0.055,"c":0.2,"j":0},{"f":"Traffic flow","v":-0.050,"c":0.25,"j":-0.1},{"f":"Traffic flow","v":-0.046,"c":0.2,"j":0.1},{"f":"Traffic flow","v":-0.043,"c":0.3,"j":-0.2},{"f":"Traffic flow","v":-0.040,"c":0.2,"j":0.15},{"f":"Traffic flow","v":-0.037,"c":0.25,"j":-0.05},{"f":"Traffic flow","v":-0.034,"c":0.35,"j":0.3},{"f":"Traffic flow","v":-0.032,"c":0.2,"j":-0.3},{"f":"Traffic flow","v":-0.029,"c":0.3,"j":0.05},{"f":"Traffic flow","v":-0.027,"c":0.25,"j":0.4},{"f":"Traffic flow","v":-0.025,"c":0.2,"j":-0.45},{"f":"Traffic flow","v":-0.022,"c":0.35,"j":0.2},{"f":"Traffic flow","v":-0.020,"c":0.25,"j":-0.15},{"f":"Traffic flow","v":-0.018,"c":0.2,"j":0.5},{"f":"Traffic flow","v":-0.016,"c":0.3,"j":-0.55},{"f":"Traffic flow","v":-0.014,"c":0.25,"j":0.1},{"f":"Traffic flow","v":-0.012,"c":0.4,"j":0.35},{"f":"Traffic flow","v":-0.010,"c":0.2,"j":-0.35},{"f":"Traffic flow","v":-0.008,"c":0.3,"j":0.6},{"f":"Traffic flow","v":-0.006,"c":0.25,"j":-0.1},{"f":"Traffic flow","v":-0.004,"c":0.35,"j":0.3},{"f":"Traffic flow","v":-0.002,"c":0.25,"j":-0.6},{"f":"Traffic flow","v":-0.001,"c":0.3,"j":0},
{"f":"Traffic flow","v":0.001,"c":0.55,"j":0.45},{"f":"Traffic flow","v":0.003,"c":0.35,"j":-0.3},{"f":"Traffic flow","v":0.005,"c":0.6,"j":0.15},{"f":"Traffic flow","v":0.007,"c":0.4,"j":0.7},{"f":"Traffic flow","v":0.009,"c":0.55,"j":-0.55},{"f":"Traffic flow","v":0.011,"c":0.35,"j":0.3},{"f":"Traffic flow","v":0.013,"c":0.6,"j":-0.1},{"f":"Traffic flow","v":0.015,"c":0.45,"j":0.55},{"f":"Traffic flow","v":0.017,"c":0.6,"j":-0.4},{"f":"Traffic flow","v":0.019,"c":0.5,"j":0.1},{"f":"Traffic flow","v":0.021,"c":0.55,"j":0.65},{"f":"Traffic flow","v":0.023,"c":0.45,"j":-0.25},{"f":"Traffic flow","v":0.025,"c":0.6,"j":0.35},{"f":"Traffic flow","v":0.027,"c":0.5,"j":-0.6},{"f":"Traffic flow","v":0.029,"c":0.55,"j":0.05},{"f":"Traffic flow","v":0.031,"c":0.45,"j":0.5},{"f":"Traffic flow","v":0.033,"c":0.6,"j":-0.35},{"f":"Traffic flow","v":0.035,"c":0.5,"j":0.2},{"f":"Traffic flow","v":0.037,"c":0.55,"j":-0.1},{"f":"Traffic flow","v":0.039,"c":0.45,"j":0.45},{"f":"Traffic flow","v":0.041,"c":0.6,"j":-0.5},{"f":"Traffic flow","v":0.043,"c":0.65,"j":0.15},{"f":"Traffic flow","v":0.045,"c":0.55,"j":0.4},{"f":"Traffic flow","v":0.047,"c":0.7,"j":-0.2},{"f":"Traffic flow","v":0.049,"c":0.6,"j":0.25},{"f":"Traffic flow","v":0.051,"c":0.7,"j":-0.45},{"f":"Traffic flow","v":0.053,"c":0.65,"j":0.05},{"f":"Traffic flow","v":0.055,"c":0.75,"j":0.5},{"f":"Traffic flow","v":0.057,"c":0.7,"j":-0.25},{"f":"Traffic flow","v":0.059,"c":0.75,"j":0.3},{"f":"Traffic flow","v":0.061,"c":0.8,"j":-0.05},{"f":"Traffic flow","v":0.063,"c":0.7,"j":0.55},{"f":"Traffic flow","v":0.065,"c":0.8,"j":-0.35},{"f":"Traffic flow","v":0.067,"c":0.75,"j":0.15},{"f":"Traffic flow","v":0.069,"c":0.85,"j":0.45},{"f":"Traffic flow","v":0.071,"c":0.8,"j":-0.15},{"f":"Traffic flow","v":0.073,"c":0.85,"j":0.25},{"f":"Traffic flow","v":0.075,"c":0.8,"j":-0.45},{"f":"Traffic flow","v":0.077,"c":0.85,"j":0.05},{"f":"Traffic flow","v":0.079,"c":0.8,"j":0.35},{"f":"Traffic flow","v":0.081,"c":0.85,"j":-0.2},{"f":"Traffic flow","v":0.083,"c":0.8,"j":0.15},{"f":"Traffic flow","v":0.085,"c":0.85,"j":-0.45},{"f":"Traffic flow","v":0.087,"c":0.85,"j":0.5},{"f":"Traffic flow","v":0.089,"c":0.8,"j":0},{"f":"Traffic flow","v":0.091,"c":0.85,"j":-0.05},{"f":"Traffic flow","v":0.095,"c":0.85,"j":0.1},{"f":"Traffic flow","v":0.128,"c":0.85,"j":-0.05},
{"f":"Traffic flow","v":-0.041,"c":0.2,"j":-0.45},{"f":"Traffic flow","v":-0.036,"c":0.25,"j":0.55},{"f":"Traffic flow","v":-0.030,"c":0.2,"j":-0.6},{"f":"Traffic flow","v":-0.024,"c":0.3,"j":0.7},{"f":"Traffic flow","v":-0.019,"c":0.2,"j":-0.1},{"f":"Traffic flow","v":-0.013,"c":0.25,"j":-0.8},{"f":"Traffic flow","v":-0.009,"c":0.3,"j":0.85},{"f":"Traffic flow","v":-0.003,"c":0.2,"j":0.3},{"f":"Traffic flow","v":0.002,"c":0.5,"j":-0.85},{"f":"Traffic flow","v":0.006,"c":0.4,"j":0},{"f":"Traffic flow","v":0.010,"c":0.55,"j":0.9},{"f":"Traffic flow","v":0.014,"c":0.4,"j":-0.8},{"f":"Traffic flow","v":0.018,"c":0.6,"j":0.35},{"f":"Traffic flow","v":0.022,"c":0.45,"j":-0.05},{"f":"Traffic flow","v":0.026,"c":0.55,"j":0.85},{"f":"Traffic flow","v":0.030,"c":0.5,"j":-0.85},{"f":"Traffic flow","v":0.034,"c":0.6,"j":0.65},{"f":"Traffic flow","v":0.038,"c":0.55,"j":-0.7},{"f":"Traffic flow","v":0.042,"c":0.65,"j":0.75},{"f":"Traffic flow","v":0.046,"c":0.6,"j":-0.75},{"f":"Traffic flow","v":0.050,"c":0.7,"j":0.7},{"f":"Traffic flow","v":0.054,"c":0.65,"j":-0.65},{"f":"Traffic flow","v":0.058,"c":0.75,"j":0.75},{"f":"Traffic flow","v":0.062,"c":0.7,"j":-0.6},{"f":"Traffic flow","v":0.066,"c":0.8,"j":0.7},{"f":"Traffic flow","v":0.070,"c":0.8,"j":-0.6},{"f":"Traffic flow","v":0.074,"c":0.85,"j":0.6},{"f":"Traffic flow","v":0.078,"c":0.8,"j":-0.5},{"f":"Traffic flow","v":0.082,"c":0.85,"j":0.5},{"f":"Traffic flow","v":0.086,"c":0.8,"j":-0.3},{"f":"Traffic flow","v":0.090,"c":0.85,"j":0.3},
{"f":"Joint Count","v":-0.048,"c":0.2,"j":0},{"f":"Joint Count","v":-0.040,"c":0.2,"j":-0.05},{"f":"Joint Count","v":-0.037,"c":0.25,"j":0.05},{"f":"Joint Count","v":-0.034,"c":0.2,"j":-0.1},{"f":"Joint Count","v":-0.031,"c":0.3,"j":0.15},{"f":"Joint Count","v":-0.029,"c":0.2,"j":-0.2},{"f":"Joint Count","v":-0.026,"c":0.25,"j":0.05},{"f":"Joint Count","v":-0.024,"c":0.2,"j":0.3},{"f":"Joint Count","v":-0.022,"c":0.35,"j":-0.3},{"f":"Joint Count","v":-0.020,"c":0.2,"j":0.15},{"f":"Joint Count","v":-0.018,"c":0.25,"j":-0.1},{"f":"Joint Count","v":-0.016,"c":0.2,"j":0.4},{"f":"Joint Count","v":-0.014,"c":0.3,"j":-0.4},{"f":"Joint Count","v":-0.012,"c":0.2,"j":0.1},{"f":"Joint Count","v":-0.010,"c":0.35,"j":0.35},{"f":"Joint Count","v":-0.008,"c":0.2,"j":-0.25},{"f":"Joint Count","v":-0.006,"c":0.3,"j":0.2},{"f":"Joint Count","v":-0.004,"c":0.2,"j":-0.45},{"f":"Joint Count","v":-0.002,"c":0.25,"j":0.05},
{"f":"Joint Count","v":0.000,"c":0.35,"j":0.45},{"f":"Joint Count","v":0.002,"c":0.25,"j":-0.2},{"f":"Joint Count","v":0.004,"c":0.4,"j":0.25},{"f":"Joint Count","v":0.006,"c":0.3,"j":-0.5},{"f":"Joint Count","v":0.008,"c":0.45,"j":0.05},{"f":"Joint Count","v":0.010,"c":0.35,"j":0.4},{"f":"Joint Count","v":0.012,"c":0.4,"j":-0.3},{"f":"Joint Count","v":0.014,"c":0.3,"j":0.15},{"f":"Joint Count","v":0.016,"c":0.45,"j":-0.1},{"f":"Joint Count","v":0.018,"c":0.35,"j":0.5},{"f":"Joint Count","v":0.020,"c":0.5,"j":-0.45},{"f":"Joint Count","v":0.022,"c":0.4,"j":0.2},{"f":"Joint Count","v":0.024,"c":0.55,"j":-0.15},{"f":"Joint Count","v":0.026,"c":0.6,"j":0.35},{"f":"Joint Count","v":0.028,"c":0.7,"j":-0.35},{"f":"Joint Count","v":0.030,"c":0.65,"j":0.05},{"f":"Joint Count","v":0.032,"c":0.75,"j":0.6},{"f":"Joint Count","v":0.034,"c":0.7,"j":-0.25},{"f":"Joint Count","v":0.036,"c":0.8,"j":0.25},{"f":"Joint Count","v":0.038,"c":0.75,"j":-0.55},{"f":"Joint Count","v":0.040,"c":0.85,"j":0.1},{"f":"Joint Count","v":0.042,"c":0.8,"j":0.45},{"f":"Joint Count","v":0.044,"c":0.85,"j":-0.2},{"f":"Joint Count","v":0.046,"c":0.8,"j":0.2},{"f":"Joint Count","v":0.048,"c":0.85,"j":-0.4},{"f":"Joint Count","v":0.050,"c":0.8,"j":0.05},{"f":"Joint Count","v":0.052,"c":0.85,"j":0.35},{"f":"Joint Count","v":0.054,"c":0.8,"j":-0.9},{"f":"Joint Count","v":0.056,"c":0.85,"j":-0.1},{"f":"Joint Count","v":0.058,"c":0.8,"j":0.25},{"f":"Joint Count","v":0.060,"c":0.85,"j":-0.3},{"f":"Joint Count","v":0.062,"c":0.8,"j":0.1},{"f":"Joint Count","v":0.064,"c":0.85,"j":-0.15},{"f":"Joint Count","v":0.066,"c":0.8,"j":0.2},{"f":"Joint Count","v":0.069,"c":0.85,"j":-0.05},{"f":"Joint Count","v":0.072,"c":0.8,"j":0.1},{"f":"Joint Count","v":0.075,"c":0.85,"j":-0.1},{"f":"Joint Count","v":0.078,"c":0.8,"j":0.05},{"f":"Joint Count","v":0.082,"c":0.85,"j":0},{"f":"Joint Count","v":0.088,"c":0.8,"j":0.05},{"f":"Joint Count","v":0.118,"c":0.75,"j":0},
{"f":"Joint Count","v":-0.027,"c":0.2,"j":-0.35},{"f":"Joint Count","v":-0.021,"c":0.25,"j":0.55},{"f":"Joint Count","v":-0.017,"c":0.2,"j":-0.6},{"f":"Joint Count","v":-0.013,"c":0.3,"j":0.65},{"f":"Joint Count","v":-0.009,"c":0.2,"j":-0.7},{"f":"Joint Count","v":-0.005,"c":0.25,"j":0.6},{"f":"Joint Count","v":-0.001,"c":0.3,"j":-0.75},{"f":"Joint Count","v":0.003,"c":0.3,"j":0.75},{"f":"Joint Count","v":0.007,"c":0.35,"j":-0.8},{"f":"Joint Count","v":0.011,"c":0.4,"j":0.7},{"f":"Joint Count","v":0.015,"c":0.35,"j":-0.65},{"f":"Joint Count","v":0.019,"c":0.45,"j":0.8},{"f":"Joint Count","v":0.023,"c":0.5,"j":-0.7},{"f":"Joint Count","v":0.027,"c":0.65,"j":0.75},{"f":"Joint Count","v":0.031,"c":0.7,"j":-0.7},{"f":"Joint Count","v":0.035,"c":0.75,"j":0.65},{"f":"Joint Count","v":0.039,"c":0.8,"j":-0.75},{"f":"Joint Count","v":0.043,"c":0.85,"j":0.7},{"f":"Joint Count","v":0.047,"c":0.8,"j":-0.6},{"f":"Joint Count","v":0.051,"c":0.85,"j":0.6},{"f":"Joint Count","v":0.055,"c":0.85,"j":0.45},{"f":"Joint Count","v":0.059,"c":0.8,"j":-0.5},{"f":"Joint Count","v":0.063,"c":0.85,"j":0.45},{"f":"Joint Count","v":0.067,"c":0.8,"j":-0.4},{"f":"Joint Count","v":0.071,"c":0.85,"j":0.3},
{"f":"Weather Conditions","v":-0.043,"c":0.2,"j":0},{"f":"Weather Conditions","v":-0.033,"c":0.25,"j":-0.05},{"f":"Weather Conditions","v":-0.030,"c":0.2,"j":0.1},{"f":"Weather Conditions","v":-0.028,"c":0.3,"j":-0.15},{"f":"Weather Conditions","v":-0.025,"c":0.2,"j":0.2},{"f":"Weather Conditions","v":-0.023,"c":0.25,"j":-0.1},{"f":"Weather Conditions","v":-0.021,"c":0.2,"j":0.3},{"f":"Weather Conditions","v":-0.019,"c":0.3,"j":-0.3},{"f":"Weather Conditions","v":-0.017,"c":0.2,"j":0.05},{"f":"Weather Conditions","v":-0.015,"c":0.25,"j":0.35},{"f":"Weather Conditions","v":-0.013,"c":0.2,"j":-0.2},{"f":"Weather Conditions","v":-0.011,"c":0.3,"j":0.15},{"f":"Weather Conditions","v":-0.009,"c":0.2,"j":-0.4},{"f":"Weather Conditions","v":-0.007,"c":0.25,"j":0.3},{"f":"Weather Conditions","v":-0.005,"c":0.2,"j":-0.05},{"f":"Weather Conditions","v":-0.003,"c":0.3,"j":0.4},{"f":"Weather Conditions","v":-0.001,"c":0.2,"j":-0.3},
{"f":"Weather Conditions","v":0.001,"c":0.25,"j":0.1},{"f":"Weather Conditions","v":0.003,"c":0.2,"j":-0.45},{"f":"Weather Conditions","v":0.005,"c":0.35,"j":0.3},{"f":"Weather Conditions","v":0.007,"c":0.5,"j":-0.1},{"f":"Weather Conditions","v":0.009,"c":0.6,"j":0.4},{"f":"Weather Conditions","v":0.011,"c":0.3,"j":-0.3},{"f":"Weather Conditions","v":0.013,"c":0.65,"j":0.15},{"f":"Weather Conditions","v":0.015,"c":0.55,"j":-0.15},{"f":"Weather Conditions","v":0.017,"c":0.7,"j":0.45},{"f":"Weather Conditions","v":0.019,"c":0.6,"j":-0.4},{"f":"Weather Conditions","v":0.021,"c":0.65,"j":0.05},{"f":"Weather Conditions","v":0.023,"c":0.7,"j":0.3},{"f":"Weather Conditions","v":0.025,"c":0.55,"j":-0.2},{"f":"Weather Conditions","v":0.027,"c":0.25,"j":-0.8},{"f":"Weather Conditions","v":0.029,"c":0.7,"j":0.2},{"f":"Weather Conditions","v":0.031,"c":0.6,"j":-0.1},{"f":"Weather Conditions","v":0.033,"c":0.7,"j":0.1},{"f":"Weather Conditions","v":0.035,"c":0.65,"j":-0.3},{"f":"Weather Conditions","v":0.038,"c":0.7,"j":0.15},{"f":"Weather Conditions","v":0.041,"c":0.65,"j":-0.05},{"f":"Weather Conditions","v":0.044,"c":0.7,"j":0.1},{"f":"Weather Conditions","v":0.047,"c":0.65,"j":-0.1},{"f":"Weather Conditions","v":0.050,"c":0.7,"j":0.05},{"f":"Weather Conditions","v":0.054,"c":0.65,"j":0},{"f":"Weather Conditions","v":0.063,"c":0.7,"j":0.05},{"f":"Weather Conditions","v":0.079,"c":0.75,"j":0},
{"f":"Weather Conditions","v":-0.027,"c":0.2,"j":0.4},{"f":"Weather Conditions","v":-0.022,"c":0.25,"j":-0.45},{"f":"Weather Conditions","v":-0.018,"c":0.2,"j":0.55},{"f":"Weather Conditions","v":-0.014,"c":0.3,"j":-0.55},{"f":"Weather Conditions","v":-0.010,"c":0.2,"j":0.6},{"f":"Weather Conditions","v":-0.006,"c":0.25,"j":-0.6},{"f":"Weather Conditions","v":-0.002,"c":0.2,"j":0.65},{"f":"Weather Conditions","v":0.002,"c":0.3,"j":-0.1},{"f":"Weather Conditions","v":0.006,"c":0.5,"j":0.6},{"f":"Weather Conditions","v":0.010,"c":0.6,"j":-0.6},{"f":"Weather Conditions","v":0.014,"c":0.55,"j":0.6},{"f":"Weather Conditions","v":0.018,"c":0.65,"j":-0.05},{"f":"Weather Conditions","v":0.022,"c":0.6,"j":-0.55},{"f":"Weather Conditions","v":0.026,"c":0.7,"j":0.5},{"f":"Weather Conditions","v":0.030,"c":0.65,"j":-0.4},{"f":"Weather Conditions","v":0.034,"c":0.7,"j":0.4},{"f":"Weather Conditions","v":0.037,"c":0.65,"j":-0.15},
{"f":"Rain Hour","v":-0.071,"c":0.2,"j":0},{"f":"Rain Hour","v":-0.049,"c":0.2,"j":-0.05},{"f":"Rain Hour","v":-0.046,"c":0.3,"j":-0.1},{"f":"Rain Hour","v":-0.037,"c":0.2,"j":0},{"f":"Rain Hour","v":-0.028,"c":0.2,"j":0.05},{"f":"Rain Hour","v":-0.026,"c":0.25,"j":-0.2},{"f":"Rain Hour","v":-0.024,"c":0.3,"j":0.2},{"f":"Rain Hour","v":-0.022,"c":0.2,"j":-0.05},{"f":"Rain Hour","v":-0.020,"c":0.4,"j":0.3},{"f":"Rain Hour","v":-0.018,"c":0.2,"j":-0.3},{"f":"Rain Hour","v":-0.016,"c":0.3,"j":0.1},{"f":"Rain Hour","v":-0.014,"c":0.25,"j":-0.15},{"f":"Rain Hour","v":-0.012,"c":0.35,"j":0.35},{"f":"Rain Hour","v":-0.010,"c":0.2,"j":-0.4},{"f":"Rain Hour","v":-0.008,"c":0.3,"j":0.05},{"f":"Rain Hour","v":-0.006,"c":0.25,"j":0.3},{"f":"Rain Hour","v":-0.004,"c":0.2,"j":-0.25},{"f":"Rain Hour","v":-0.002,"c":0.3,"j":0.1},
{"f":"Rain Hour","v":0.000,"c":0.25,"j":-0.45},{"f":"Rain Hour","v":0.002,"c":0.35,"j":0.2},{"f":"Rain Hour","v":0.004,"c":0.2,"j":-0.1},{"f":"Rain Hour","v":0.006,"c":0.4,"j":0.35},{"f":"Rain Hour","v":0.008,"c":0.25,"j":-0.35},{"f":"Rain Hour","v":0.010,"c":0.55,"j":0.1},{"f":"Rain Hour","v":0.012,"c":0.3,"j":-0.15},{"f":"Rain Hour","v":0.014,"c":0.6,"j":0.3},{"f":"Rain Hour","v":0.016,"c":0.35,"j":-0.3},{"f":"Rain Hour","v":0.018,"c":0.55,"j":0.05},{"f":"Rain Hour","v":0.020,"c":0.3,"j":-0.1},{"f":"Rain Hour","v":0.022,"c":0.6,"j":0.2},{"f":"Rain Hour","v":0.024,"c":0.35,"j":-0.2},{"f":"Rain Hour","v":0.026,"c":0.3,"j":0.05},{"f":"Rain Hour","v":0.029,"c":0.4,"j":-0.05},{"f":"Rain Hour","v":0.032,"c":0.3,"j":0.1},{"f":"Rain Hour","v":0.047,"c":0.65,"j":0.05},
{"f":"Rain Hour","v":-0.025,"c":0.2,"j":0.45},{"f":"Rain Hour","v":-0.021,"c":0.3,"j":-0.4},{"f":"Rain Hour","v":-0.017,"c":0.25,"j":0.5},{"f":"Rain Hour","v":-0.013,"c":0.2,"j":-0.55},{"f":"Rain Hour","v":-0.009,"c":0.3,"j":0.5},{"f":"Rain Hour","v":-0.005,"c":0.25,"j":-0.5},{"f":"Rain Hour","v":-0.001,"c":0.3,"j":0.45},{"f":"Rain Hour","v":0.003,"c":0.25,"j":-0.4},{"f":"Rain Hour","v":0.007,"c":0.3,"j":0.55},{"f":"Rain Hour","v":0.011,"c":0.55,"j":-0.45},{"f":"Rain Hour","v":0.015,"c":0.3,"j":0.45},{"f":"Rain Hour","v":0.019,"c":0.6,"j":-0.35},{"f":"Rain Hour","v":0.023,"c":0.3,"j":0.35},{"f":"Rain Hour","v":0.027,"c":0.35,"j":-0.25},
{"f":"Temperature","v":-0.052,"c":0.2,"j":-0.05},{"f":"Temperature","v":-0.035,"c":0.2,"j":0},{"f":"Temperature","v":-0.027,"c":0.25,"j":0.1},{"f":"Temperature","v":-0.025,"c":0.2,"j":-0.1},{"f":"Temperature","v":-0.022,"c":0.3,"j":0.2},{"f":"Temperature","v":-0.020,"c":0.2,"j":-0.15},{"f":"Temperature","v":-0.018,"c":0.25,"j":0.3},{"f":"Temperature","v":-0.016,"c":0.2,"j":0},{"f":"Temperature","v":-0.014,"c":0.3,"j":-0.3},{"f":"Temperature","v":-0.012,"c":0.2,"j":0.2},{"f":"Temperature","v":-0.010,"c":0.25,"j":-0.1},{"f":"Temperature","v":-0.008,"c":0.3,"j":0.35},{"f":"Temperature","v":-0.006,"c":0.2,"j":-0.35},{"f":"Temperature","v":-0.004,"c":0.25,"j":0.1},{"f":"Temperature","v":-0.002,"c":0.35,"j":-0.1},
{"f":"Temperature","v":0.000,"c":0.25,"j":0.3},{"f":"Temperature","v":0.002,"c":0.3,"j":-0.3},{"f":"Temperature","v":0.004,"c":0.2,"j":0.1},{"f":"Temperature","v":0.006,"c":0.35,"j":-0.15},{"f":"Temperature","v":0.008,"c":0.3,"j":0.25},{"f":"Temperature","v":0.010,"c":0.4,"j":-0.3},{"f":"Temperature","v":0.012,"c":0.3,"j":0.05},{"f":"Temperature","v":0.014,"c":0.45,"j":0.3},{"f":"Temperature","v":0.016,"c":0.35,"j":-0.2},{"f":"Temperature","v":0.018,"c":0.5,"j":0.1},{"f":"Temperature","v":0.020,"c":0.65,"j":-0.1},{"f":"Temperature","v":0.022,"c":0.7,"j":0.25},{"f":"Temperature","v":0.024,"c":0.6,"j":-0.25},{"f":"Temperature","v":0.026,"c":0.7,"j":0.05},{"f":"Temperature","v":0.028,"c":0.65,"j":-0.1},{"f":"Temperature","v":0.030,"c":0.6,"j":0.2},{"f":"Temperature","v":0.032,"c":0.7,"j":0},{"f":"Temperature","v":0.034,"c":0.55,"j":-0.15},{"f":"Temperature","v":0.036,"c":0.6,"j":0.1},{"f":"Temperature","v":0.054,"c":0.35,"j":-0.05},{"f":"Temperature","v":0.058,"c":0.4,"j":0.1},{"f":"Temperature","v":0.078,"c":0.35,"j":0.1},
{"f":"Temperature","v":-0.024,"c":0.2,"j":0.45},{"f":"Temperature","v":-0.019,"c":0.25,"j":-0.4},{"f":"Temperature","v":-0.015,"c":0.2,"j":0.5},{"f":"Temperature","v":-0.011,"c":0.3,"j":-0.5},{"f":"Temperature","v":-0.007,"c":0.2,"j":0.55},{"f":"Temperature","v":-0.003,"c":0.25,"j":-0.55},{"f":"Temperature","v":0.001,"c":0.3,"j":0.5},{"f":"Temperature","v":0.005,"c":0.2,"j":-0.5},{"f":"Temperature","v":0.009,"c":0.35,"j":0.45},{"f":"Temperature","v":0.013,"c":0.3,"j":-0.45},{"f":"Temperature","v":0.017,"c":0.4,"j":0.4},{"f":"Temperature","v":0.021,"c":0.6,"j":-0.4},{"f":"Temperature","v":0.025,"c":0.7,"j":0.4},{"f":"Temperature","v":0.029,"c":0.65,"j":-0.35},{"f":"Temperature","v":0.033,"c":0.6,"j":0.3},
{"f":"Humidity","v":-0.038,"c":0.2,"j":0},{"f":"Humidity","v":-0.028,"c":0.2,"j":-0.05},{"f":"Humidity","v":-0.025,"c":0.25,"j":0.1},{"f":"Humidity","v":-0.023,"c":0.2,"j":-0.15},{"f":"Humidity","v":-0.021,"c":0.3,"j":0.05},{"f":"Humidity","v":-0.019,"c":0.2,"j":0.2},{"f":"Humidity","v":-0.017,"c":0.25,"j":-0.2},{"f":"Humidity","v":-0.015,"c":0.2,"j":0.05},{"f":"Humidity","v":-0.013,"c":0.3,"j":0.3},{"f":"Humidity","v":-0.011,"c":0.2,"j":-0.3},{"f":"Humidity","v":-0.009,"c":0.25,"j":0.1},{"f":"Humidity","v":-0.007,"c":0.2,"j":-0.1},{"f":"Humidity","v":-0.005,"c":0.3,"j":0.25},{"f":"Humidity","v":-0.003,"c":0.2,"j":-0.35},{"f":"Humidity","v":-0.001,"c":0.25,"j":0.4},{"f":"Humidity","v":0.001,"c":0.2,"j":-0.2},{"f":"Humidity","v":0.003,"c":0.3,"j":0.1},{"f":"Humidity","v":0.005,"c":0.2,"j":-0.45},{"f":"Humidity","v":0.007,"c":0.25,"j":0.2},{"f":"Humidity","v":0.009,"c":0.35,"j":-0.1},{"f":"Humidity","v":0.011,"c":0.2,"j":0.3},{"f":"Humidity","v":0.013,"c":0.3,"j":-0.3},{"f":"Humidity","v":0.015,"c":0.25,"j":0.05},{"f":"Humidity","v":0.017,"c":0.35,"j":-0.1},{"f":"Humidity","v":0.019,"c":0.3,"j":0.25},{"f":"Humidity","v":0.021,"c":0.25,"j":-0.25},{"f":"Humidity","v":0.023,"c":0.35,"j":0.05},{"f":"Humidity","v":0.025,"c":0.3,"j":-0.05},{"f":"Humidity","v":0.028,"c":0.4,"j":0.1},{"f":"Humidity","v":0.038,"c":0.3,"j":0},
{"f":"Humidity","v":-0.022,"c":0.2,"j":0.35},{"f":"Humidity","v":-0.018,"c":0.25,"j":-0.4},{"f":"Humidity","v":-0.014,"c":0.2,"j":0.45},{"f":"Humidity","v":-0.010,"c":0.3,"j":-0.45},{"f":"Humidity","v":-0.006,"c":0.2,"j":0.5},{"f":"Humidity","v":-0.002,"c":0.25,"j":-0.5},{"f":"Humidity","v":0.002,"c":0.2,"j":0.5},{"f":"Humidity","v":0.006,"c":0.3,"j":-0.1},{"f":"Humidity","v":0.010,"c":0.25,"j":-0.45},{"f":"Humidity","v":0.014,"c":0.3,"j":0.4},{"f":"Humidity","v":0.018,"c":0.25,"j":-0.35},{"f":"Humidity","v":0.022,"c":0.35,"j":0.3},{"f":"Humidity","v":0.026,"c":0.3,"j":-0.2},{"f":"Humidity","v":0.030,"c":0.35,"j":0.05},
{"f":"Wind Speed","v":-0.033,"c":0.2,"j":0},{"f":"Wind Speed","v":-0.030,"c":0.2,"j":-0.1},{"f":"Wind Speed","v":-0.028,"c":0.25,"j":0.1},{"f":"Wind Speed","v":-0.026,"c":0.2,"j":-0.05},{"f":"Wind Speed","v":-0.024,"c":0.3,"j":0.15},{"f":"Wind Speed","v":-0.022,"c":0.2,"j":-0.2},{"f":"Wind Speed","v":-0.020,"c":0.25,"j":0.05},{"f":"Wind Speed","v":-0.018,"c":0.2,"j":0.25},{"f":"Wind Speed","v":-0.016,"c":0.3,"j":-0.3},{"f":"Wind Speed","v":-0.014,"c":0.2,"j":0.1},{"f":"Wind Speed","v":-0.012,"c":0.25,"j":-0.1},{"f":"Wind Speed","v":-0.010,"c":0.2,"j":0.3},{"f":"Wind Speed","v":-0.008,"c":0.3,"j":-0.25},{"f":"Wind Speed","v":-0.006,"c":0.2,"j":0.05},{"f":"Wind Speed","v":-0.004,"c":0.25,"j":0.35},{"f":"Wind Speed","v":-0.002,"c":0.2,"j":-0.4},{"f":"Wind Speed","v":0.000,"c":0.25,"j":0.15},{"f":"Wind Speed","v":0.002,"c":0.2,"j":-0.15},{"f":"Wind Speed","v":0.004,"c":0.3,"j":0.3},{"f":"Wind Speed","v":0.006,"c":0.2,"j":-0.35},{"f":"Wind Speed","v":0.008,"c":0.25,"j":0.05},{"f":"Wind Speed","v":0.010,"c":0.35,"j":0.25},{"f":"Wind Speed","v":0.012,"c":0.25,"j":-0.2},{"f":"Wind Speed","v":0.014,"c":0.3,"j":0.1},{"f":"Wind Speed","v":0.016,"c":0.4,"j":-0.1},{"f":"Wind Speed","v":0.018,"c":0.3,"j":0.2},{"f":"Wind Speed","v":0.020,"c":0.35,"j":-0.3},{"f":"Wind Speed","v":0.022,"c":0.45,"j":0.05},{"f":"Wind Speed","v":0.024,"c":0.3,"j":-0.1},{"f":"Wind Speed","v":0.026,"c":0.4,"j":0.15},{"f":"Wind Speed","v":0.028,"c":0.35,"j":-0.05},{"f":"Wind Speed","v":0.031,"c":0.4,"j":0.1},{"f":"Wind Speed","v":0.034,"c":0.3,"j":-0.45},{"f":"Wind Speed","v":0.064,"c":0.3,"j":0},
{"f":"Wind Speed","v":-0.029,"c":0.2,"j":0.35},{"f":"Wind Speed","v":-0.025,"c":0.25,"j":-0.35},{"f":"Wind Speed","v":-0.021,"c":0.2,"j":0.4},{"f":"Wind Speed","v":-0.017,"c":0.3,"j":0},{"f":"Wind Speed","v":-0.013,"c":0.2,"j":-0.45},{"f":"Wind Speed","v":-0.009,"c":0.25,"j":0.45},{"f":"Wind Speed","v":-0.005,"c":0.2,"j":-0.5},{"f":"Wind Speed","v":-0.001,"c":0.3,"j":0.5},{"f":"Wind Speed","v":0.003,"c":0.2,"j":-0.5},{"f":"Wind Speed","v":0.007,"c":0.25,"j":0.45},{"f":"Wind Speed","v":0.011,"c":0.3,"j":-0.45},{"f":"Wind Speed","v":0.015,"c":0.25,"j":0.45},{"f":"Wind Speed","v":0.019,"c":0.35,"j":-0.1},{"f":"Wind Speed","v":0.023,"c":0.3,"j":0.35},{"f":"Wind Speed","v":0.027,"c":0.35,"j":-0.3},{"f":"Wind Speed","v":0.030,"c":0.3,"j":0.3},
{"f":"Precipitation Intensity","v":-0.050,"c":0.2,"j":0},{"f":"Precipitation Intensity","v":-0.021,"c":0.2,"j":0.05},{"f":"Precipitation Intensity","v":-0.019,"c":0.25,"j":-0.1},{"f":"Precipitation Intensity","v":-0.017,"c":0.2,"j":0.15},{"f":"Precipitation Intensity","v":-0.015,"c":0.3,"j":-0.05},{"f":"Precipitation Intensity","v":-0.013,"c":0.2,"j":0.2},{"f":"Precipitation Intensity","v":-0.011,"c":0.25,"j":-0.2},{"f":"Precipitation Intensity","v":-0.009,"c":0.2,"j":0.05},{"f":"Precipitation Intensity","v":-0.007,"c":0.3,"j":0.3},{"f":"Precipitation Intensity","v":-0.005,"c":0.2,"j":-0.3},{"f":"Precipitation Intensity","v":-0.003,"c":0.25,"j":0.1},{"f":"Precipitation Intensity","v":-0.001,"c":0.2,"j":-0.1},{"f":"Precipitation Intensity","v":0.001,"c":0.3,"j":0.35},{"f":"Precipitation Intensity","v":0.003,"c":0.2,"j":-0.4},{"f":"Precipitation Intensity","v":0.005,"c":0.25,"j":0.15},{"f":"Precipitation Intensity","v":0.007,"c":0.35,"j":-0.15},{"f":"Precipitation Intensity","v":0.009,"c":0.2,"j":0.25},{"f":"Precipitation Intensity","v":0.011,"c":0.3,"j":-0.25},{"f":"Precipitation Intensity","v":0.013,"c":0.25,"j":0.05},{"f":"Precipitation Intensity","v":0.015,"c":0.35,"j":-0.05},{"f":"Precipitation Intensity","v":0.017,"c":0.3,"j":0.15},{"f":"Precipitation Intensity","v":0.019,"c":0.25,"j":-0.1},{"f":"Precipitation Intensity","v":0.021,"c":0.35,"j":0.05},{"f":"Precipitation Intensity","v":0.024,"c":0.3,"j":0},{"f":"Precipitation Intensity","v":0.048,"c":0.55,"j":0},
{"f":"Precipitation Intensity","v":-0.018,"c":0.2,"j":0.4},{"f":"Precipitation Intensity","v":-0.014,"c":0.25,"j":-0.4},{"f":"Precipitation Intensity","v":-0.010,"c":0.2,"j":0.45},{"f":"Precipitation Intensity","v":-0.006,"c":0.3,"j":-0.5},{"f":"Precipitation Intensity","v":-0.002,"c":0.2,"j":0.5},{"f":"Precipitation Intensity","v":0.002,"c":0.25,"j":-0.05},{"f":"Precipitation Intensity","v":0.006,"c":0.2,"j":0.45},{"f":"Precipitation Intensity","v":0.010,"c":0.3,"j":-0.45},{"f":"Precipitation Intensity","v":0.014,"c":0.25,"j":0.4},{"f":"Precipitation Intensity","v":0.018,"c":0.3,"j":-0.35},{"f":"Precipitation Intensity","v":0.022,"c":0.25,"j":0.3},{"f":"Precipitation Intensity","v":0.020,"c":0.35,"j":-0.25}
]},
"layer": [
{"data": {"values": [{}]},
 "mark": {"type": "rule", "color": "#999999", "strokeWidth": 1.5},
 "encoding": {"x": {"datum": 0, "type": "quantitative", "scale": {"domain": [-0.2154, 0.2081], "nice": false, "zero": false}}}},
{"mark": {"type": "circle", "size": 36, "opacity": 1},
 "encoding": {
  "x": {"field": "v", "type": "quantitative",
        "scale": {"domain": [-0.2154, 0.2081], "nice": false, "zero": false},
        "axis": {"values": [-0.2, -0.15, -0.1, -0.05, 0, 0.05, 0.1, 0.15, 0.2],
                 "labelExpr": "datum.value == 0 ? '0.0' : replace(format(datum.value, '.2f'), '\u2212', '-')",
                 "grid": false, "tickSize": 3, "tickColor": "#555", "domainColor": "#333",
                 "labelFontSize": 15, "labelColor": "#333", "labelPadding": 3,
                 "title": "Importance value of the feature", "titleFontSize": 21, "titleFontWeight": "normal",
                 "titleColor": "#333", "titlePadding": 8}},
  "y": {"field": "f", "type": "nominal",
        "scale": {"type": "band", "domain": ["Hour","Weekday","Day Of Week","Population density","Land Use Mix Degree","Road Type","Road Length","Traffic flow","Joint Count","Weather Conditions","Rain Hour","Temperature","Humidity","Wind Speed","Precipitation Intensity"], "paddingInner": 0, "paddingOuter": 0.54},
        "axis": {"title": null, "domain": false, "ticks": false, "labelPadding": 160, "labelAlign": "left",
                 "labelFontWeight": "bold", "labelFontSize": 17, "labelColor": "#111", "labelLimit": 300,
                 "grid": true, "bandPosition": 0.5, "gridColor": "#eeeeee", "gridDash": [2, 3]}},
  "yOffset": {"field": "j", "type": "quantitative", "scale": {"domain": [-1, 1], "range": [38.6, 6.6]}},
  "color": {"field": "c", "type": "quantitative",
            "scale": {"domain": [0, 0.25, 0.5, 0.75, 1], "range": ["#008bfb", "#4a66e8", "#9c1fbf", "#d4009a", "#ff0052"]},
            "legend": {"orient": "none", "legendX": 585, "legendY": 2, "direction": "vertical",
                       "gradientLength": 722, "gradientThickness": 7, "gradientStrokeWidth": 0,
                       "values": [0, 1], "labelExpr": "datum.value >= 0.5 ? 'High' : 'Low'",
                       "title": null, "labelFontSize": 14, "labelColor": "#333", "labelOffset": 9}}
 }},
{"mark": {"type": "circle", "opacity": 0},
 "encoding": {
  "x": {"field": "v", "type": "quantitative"},
  "y": {"field": "f", "type": "nominal",
        "axis": {"orient": "right", "title": "Feature value", "titleAngle": 270, "labels": false, "ticks": false,
                 "domain": false, "grid": false, "titleFontSize": 19, "titleFontWeight": "normal",
                 "titleColor": "#333", "titlePadding": 72}}}}
],
"resolve": {"axis": {"y": "independent"}}
}
